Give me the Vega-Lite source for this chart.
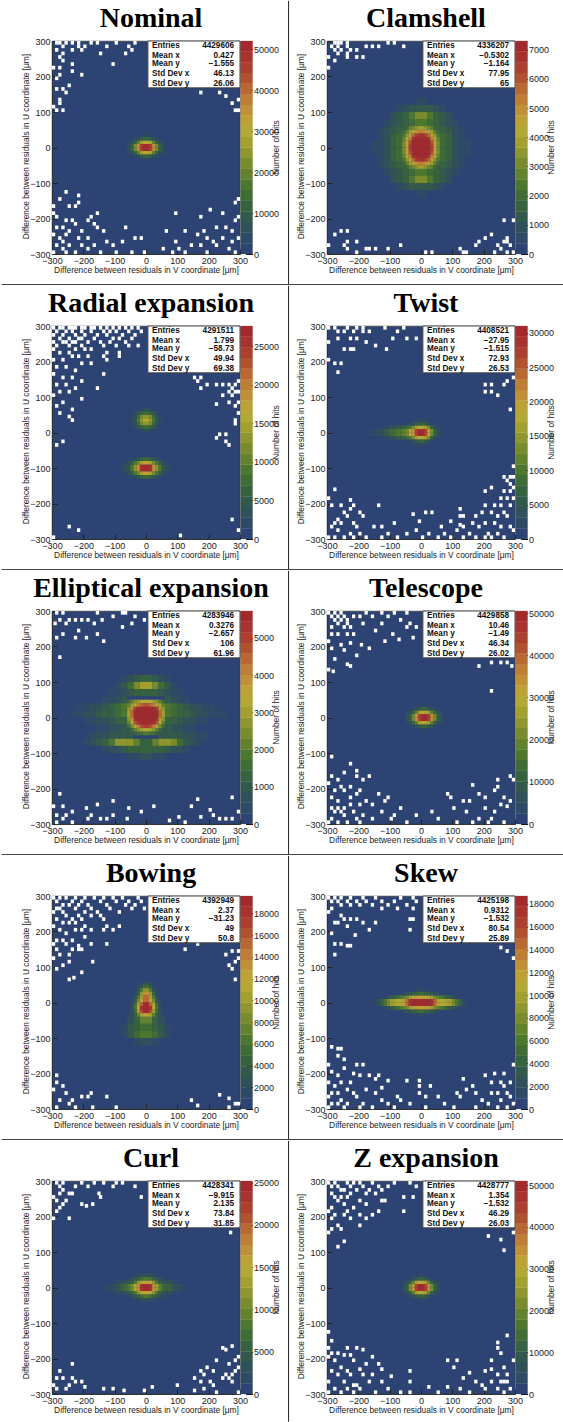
{"$schema":"https://vega.github.io/schema/vega-lite/v6.json","padding":0,"background":"white","bounds":"flush","columns":2,"spacing":{"column":87,"row":72},
"config":{"view":{"fill":"#2d4373","stroke":"#333","strokeWidth":0.7},"legend":{"disable":true},"range":{"ordinal":["#2d4373","#2f4a66","#30505a","#33594c","#376240","#3f6b34","#4d772f","#62822d","#788b2d","#8e962e","#a3a030","#b3a833","#bca236","#c09038","#be7e35","#b86832","#b1522f","#ab402e","#a6332e","#a32a2c"]},"axis":{"labelFont":"Liberation Sans","titleFont":"Liberation Sans","labelFontSize":9,"titleFontSize":8.4,"titleFontWeight":"normal","labelColor":"#222","titleColor":"#222","grid":false,"tickColor":"#222","domainColor":"#333","zindex":1,"labelOverlap":false,"labelFlush":false},"axisBottom":{"tickCount":7,"tickSize":-5,"labelPadding":7,"titleX":94,"titleY":15,"titleBaseline":"middle"},"axisLeft":{"tickCount":7,"tickSize":-5,"labelPadding":7,"titleX":-27,"titleY":105,"titleBaseline":"middle"},"axisRight":{"offset":12.6,"tickSize":-7,"labelPadding":8,"domain":false,"titleX":23,"titleY":106,"titleAngle":-90,"titleBaseline":"middle","tickColor":"#111"},"text":{"font":"Liberation Sans","fontSize":8.2,"fontWeight":"bold","color":"#111","baseline":"middle"}},
"datasets":{
"box":[{"x":6,"x2":300,"y":300,"y2":168}],
"lab":[{"t":"Entries","x":19,"y":286},{"t":"Mean x","x":19,"y":259},{"t":"Mean y","x":19,"y":235},{"t":"Std Dev x","x":19,"y":207},{"t":"Std Dev y","x":19,"y":179}],
"sl":[{"x":-461,"x2":455,"y":-386}],"sr":[{"x":-424,"x2":456,"y":-386}],"vt":[{"x":455,"y":413,"y2":-386}],"vb":[{"x":455,"y":413,"y2":-378}],
"hA":[{"x":5,"y":5,"l":19},{"x":-5,"y":5,"l":19},{"x":15,"y":5,"l":17},{"x":-15,"y":5,"l":17},{"x":25,"y":5,"l":13},{"x":-25,"y":5,"l":13},{"x":35,"y":5,"l":8},{"x":-35,"y":5,"l":8},{"x":45,"y":5,"l":4},{"x":-45,"y":5,"l":4},{"x":55,"y":5,"l":2},{"x":-55,"y":5,"l":2},{"x":5,"y":-5,"l":19},{"x":-5,"y":-5,"l":19},{"x":15,"y":-5,"l":17},{"x":-15,"y":-5,"l":17},{"x":25,"y":-5,"l":13},{"x":-25,"y":-5,"l":13},{"x":35,"y":-5,"l":8},{"x":-35,"y":-5,"l":8},{"x":45,"y":-5,"l":4},{"x":-45,"y":-5,"l":4},{"x":55,"y":-5,"l":2},{"x":-55,"y":-5,"l":2},{"x":5,"y":15,"l":11},{"x":-5,"y":15,"l":11},{"x":15,"y":15,"l":10},{"x":-15,"y":15,"l":10},{"x":25,"y":15,"l":7},{"x":-25,"y":15,"l":7},{"x":35,"y":15,"l":4},{"x":-35,"y":15,"l":4},{"x":45,"y":15,"l":2},{"x":-45,"y":15,"l":2},{"x":55,"y":15,"l":1},{"x":-55,"y":15,"l":1},{"x":5,"y":-15,"l":11},{"x":-5,"y":-15,"l":11},{"x":15,"y":-15,"l":10},{"x":-15,"y":-15,"l":10},{"x":25,"y":-15,"l":7},{"x":-25,"y":-15,"l":7},{"x":35,"y":-15,"l":4},{"x":-35,"y":-15,"l":4},{"x":45,"y":-15,"l":2},{"x":-45,"y":-15,"l":2},{"x":55,"y":-15,"l":1},{"x":-55,"y":-15,"l":1},{"x":5,"y":25,"l":4},{"x":-5,"y":25,"l":4},{"x":15,"y":25,"l":3},{"x":-15,"y":25,"l":3},{"x":25,"y":25,"l":2},{"x":-25,"y":25,"l":2},{"x":35,"y":25,"l":1},{"x":-35,"y":25,"l":1},{"x":5,"y":-25,"l":4},{"x":-5,"y":-25,"l":4},{"x":15,"y":-25,"l":3},{"x":-15,"y":-25,"l":3},{"x":25,"y":-25,"l":2},{"x":-25,"y":-25,"l":2},{"x":35,"y":-25,"l":1},{"x":-35,"y":-25,"l":1},{"x":5,"y":35,"l":1},{"x":-5,"y":35,"l":1},{"x":5,"y":-35,"l":1},{"x":-5,"y":-35,"l":1}],
"hT":[{"x":5,"y":5,"l":19},{"x":15,"y":5,"l":19},{"x":-5,"y":5,"l":17},{"x":25,"y":5,"l":17},{"x":-15,"y":5,"l":13},{"x":35,"y":5,"l":13},{"x":-25,"y":5,"l":8},{"x":45,"y":5,"l":8},{"x":-35,"y":5,"l":4},{"x":55,"y":5,"l":4},{"x":-45,"y":5,"l":2},{"x":65,"y":5,"l":2},{"x":5,"y":-5,"l":19},{"x":15,"y":-5,"l":19},{"x":-5,"y":-5,"l":17},{"x":25,"y":-5,"l":17},{"x":-15,"y":-5,"l":13},{"x":35,"y":-5,"l":13},{"x":-25,"y":-5,"l":8},{"x":45,"y":-5,"l":8},{"x":-35,"y":-5,"l":4},{"x":55,"y":-5,"l":4},{"x":-45,"y":-5,"l":2},{"x":65,"y":-5,"l":2},{"x":5,"y":15,"l":11},{"x":15,"y":15,"l":11},{"x":-5,"y":15,"l":10},{"x":25,"y":15,"l":10},{"x":-15,"y":15,"l":7},{"x":35,"y":15,"l":7},{"x":-25,"y":15,"l":4},{"x":45,"y":15,"l":4},{"x":-35,"y":15,"l":2},{"x":55,"y":15,"l":2},{"x":-45,"y":15,"l":1},{"x":65,"y":15,"l":1},{"x":5,"y":-15,"l":11},{"x":15,"y":-15,"l":11},{"x":-5,"y":-15,"l":10},{"x":25,"y":-15,"l":10},{"x":-15,"y":-15,"l":7},{"x":35,"y":-15,"l":7},{"x":-25,"y":-15,"l":4},{"x":45,"y":-15,"l":4},{"x":-35,"y":-15,"l":2},{"x":55,"y":-15,"l":2},{"x":-45,"y":-15,"l":1},{"x":65,"y":-15,"l":1},{"x":5,"y":25,"l":4},{"x":15,"y":25,"l":4},{"x":-5,"y":25,"l":3},{"x":25,"y":25,"l":3},{"x":-15,"y":25,"l":2},{"x":35,"y":25,"l":2},{"x":-25,"y":25,"l":1},{"x":45,"y":25,"l":1},{"x":5,"y":-25,"l":4},{"x":15,"y":-25,"l":4},{"x":-5,"y":-25,"l":3},{"x":25,"y":-25,"l":3},{"x":-15,"y":-25,"l":2},{"x":35,"y":-25,"l":2},{"x":-25,"y":-25,"l":1},{"x":45,"y":-25,"l":1},{"x":5,"y":35,"l":1},{"x":15,"y":35,"l":1},{"x":5,"y":-35,"l":1},{"x":15,"y":-35,"l":1}],
"hR":[{"x":5,"y":35,"l":11},{"x":-5,"y":35,"l":11},{"x":15,"y":35,"l":9},{"x":-15,"y":35,"l":9},{"x":25,"y":35,"l":6},{"x":-25,"y":35,"l":6},{"x":35,"y":35,"l":3},{"x":-35,"y":35,"l":3},{"x":45,"y":35,"l":1},{"x":-45,"y":35,"l":1},{"x":5,"y":25,"l":9},{"x":-5,"y":25,"l":9},{"x":15,"y":25,"l":8},{"x":-15,"y":25,"l":8},{"x":25,"y":25,"l":5},{"x":-25,"y":25,"l":5},{"x":35,"y":25,"l":2},{"x":-35,"y":25,"l":2},{"x":45,"y":25,"l":1},{"x":-45,"y":25,"l":1},{"x":5,"y":45,"l":9},{"x":-5,"y":45,"l":9},{"x":15,"y":45,"l":8},{"x":-15,"y":45,"l":8},{"x":25,"y":45,"l":5},{"x":-25,"y":45,"l":5},{"x":35,"y":45,"l":2},{"x":-35,"y":45,"l":2},{"x":45,"y":45,"l":1},{"x":-45,"y":45,"l":1},{"x":5,"y":15,"l":5},{"x":-5,"y":15,"l":5},{"x":15,"y":15,"l":4},{"x":-15,"y":15,"l":4},{"x":25,"y":15,"l":3},{"x":-25,"y":15,"l":3},{"x":35,"y":15,"l":1},{"x":-35,"y":15,"l":1},{"x":5,"y":55,"l":5},{"x":-5,"y":55,"l":5},{"x":15,"y":55,"l":4},{"x":-15,"y":55,"l":4},{"x":25,"y":55,"l":3},{"x":-25,"y":55,"l":3},{"x":35,"y":55,"l":1},{"x":-35,"y":55,"l":1},{"x":5,"y":5,"l":2},{"x":-5,"y":5,"l":2},{"x":15,"y":5,"l":1},{"x":-15,"y":5,"l":1},{"x":5,"y":65,"l":2},{"x":-5,"y":65,"l":2},{"x":15,"y":65,"l":1},{"x":-15,"y":65,"l":1},
{"x":5,"y":-95,"l":19},{"x":-5,"y":-95,"l":19},{"x":15,"y":-95,"l":18},{"x":-15,"y":-95,"l":18},{"x":25,"y":-95,"l":13},{"x":-25,"y":-95,"l":13},{"x":35,"y":-95,"l":9},{"x":-35,"y":-95,"l":9},{"x":45,"y":-95,"l":6},{"x":-45,"y":-95,"l":6},{"x":55,"y":-95,"l":3},{"x":-55,"y":-95,"l":3},{"x":65,"y":-95,"l":2},{"x":-65,"y":-95,"l":2},{"x":75,"y":-95,"l":1},{"x":-75,"y":-95,"l":1},{"x":5,"y":-105,"l":19},{"x":-5,"y":-105,"l":19},{"x":15,"y":-105,"l":18},{"x":-15,"y":-105,"l":18},{"x":25,"y":-105,"l":13},{"x":-25,"y":-105,"l":13},{"x":35,"y":-105,"l":9},{"x":-35,"y":-105,"l":9},{"x":45,"y":-105,"l":6},{"x":-45,"y":-105,"l":6},{"x":55,"y":-105,"l":3},{"x":-55,"y":-105,"l":3},{"x":65,"y":-105,"l":2},{"x":-65,"y":-105,"l":2},{"x":75,"y":-105,"l":1},{"x":-75,"y":-105,"l":1},{"x":5,"y":-85,"l":12},{"x":-5,"y":-85,"l":12},{"x":15,"y":-85,"l":10},{"x":-15,"y":-85,"l":10},{"x":25,"y":-85,"l":8},{"x":-25,"y":-85,"l":8},{"x":35,"y":-85,"l":6},{"x":-35,"y":-85,"l":6},{"x":45,"y":-85,"l":4},{"x":-45,"y":-85,"l":4},{"x":55,"y":-85,"l":2},{"x":-55,"y":-85,"l":2},{"x":65,"y":-85,"l":1},{"x":-65,"y":-85,"l":1},{"x":5,"y":-115,"l":12},{"x":-5,"y":-115,"l":12},{"x":15,"y":-115,"l":10},{"x":-15,"y":-115,"l":10},{"x":25,"y":-115,"l":8},{"x":-25,"y":-115,"l":8},{"x":35,"y":-115,"l":6},{"x":-35,"y":-115,"l":6},{"x":45,"y":-115,"l":4},{"x":-45,"y":-115,"l":4},{"x":55,"y":-115,"l":2},{"x":-55,"y":-115,"l":2},{"x":65,"y":-115,"l":1},{"x":-65,"y":-115,"l":1},{"x":5,"y":-75,"l":5},{"x":-5,"y":-75,"l":5},{"x":15,"y":-75,"l":4},{"x":-15,"y":-75,"l":4},{"x":25,"y":-75,"l":3},{"x":-25,"y":-75,"l":3},{"x":35,"y":-75,"l":2},{"x":-35,"y":-75,"l":2},{"x":45,"y":-75,"l":1},{"x":-45,"y":-75,"l":1},{"x":5,"y":-125,"l":5},{"x":-5,"y":-125,"l":5},{"x":15,"y":-125,"l":4},{"x":-15,"y":-125,"l":4},{"x":25,"y":-125,"l":3},{"x":-25,"y":-125,"l":3},{"x":35,"y":-125,"l":2},{"x":-35,"y":-125,"l":2},{"x":45,"y":-125,"l":1},{"x":-45,"y":-125,"l":1}],
"hW":[{"x":5,"y":5,"l":19},{"x":-5,"y":5,"l":19},{"x":15,"y":5,"l":17},{"x":-15,"y":5,"l":17},{"x":25,"y":5,"l":12},{"x":-25,"y":5,"l":13},{"x":35,"y":5,"l":8},{"x":-35,"y":5,"l":11},{"x":45,"y":5,"l":4},{"x":-45,"y":5,"l":8},{"x":55,"y":5,"l":2},{"x":-55,"y":5,"l":7},{"x":65,"y":5,"l":1},{"x":-65,"y":5,"l":6},{"x":-75,"y":5,"l":6},{"x":-85,"y":5,"l":5},{"x":-95,"y":5,"l":5},{"x":-105,"y":5,"l":4},{"x":-115,"y":5,"l":3},{"x":-125,"y":5,"l":2},{"x":-135,"y":5,"l":2},{"x":-145,"y":5,"l":1},{"x":-155,"y":5,"l":1},{"x":-165,"y":5,"l":1},{"x":5,"y":-5,"l":19},{"x":-5,"y":-5,"l":19},{"x":15,"y":-5,"l":17},{"x":-15,"y":-5,"l":17},{"x":25,"y":-5,"l":12},{"x":-25,"y":-5,"l":13},{"x":35,"y":-5,"l":8},{"x":-35,"y":-5,"l":11},{"x":45,"y":-5,"l":4},{"x":-45,"y":-5,"l":8},{"x":55,"y":-5,"l":2},{"x":-55,"y":-5,"l":7},{"x":65,"y":-5,"l":1},{"x":-65,"y":-5,"l":6},{"x":-75,"y":-5,"l":6},{"x":-85,"y":-5,"l":5},{"x":-95,"y":-5,"l":5},{"x":-105,"y":-5,"l":4},{"x":-115,"y":-5,"l":3},{"x":-125,"y":-5,"l":2},{"x":-135,"y":-5,"l":2},{"x":-145,"y":-5,"l":1},{"x":-155,"y":-5,"l":1},{"x":-165,"y":-5,"l":1},{"x":5,"y":15,"l":11},{"x":-5,"y":15,"l":11},{"x":15,"y":15,"l":10},{"x":-15,"y":15,"l":10},{"x":25,"y":15,"l":8},{"x":-25,"y":15,"l":8},{"x":35,"y":15,"l":4},{"x":-35,"y":15,"l":6},{"x":45,"y":15,"l":2},{"x":-45,"y":15,"l":5},{"x":55,"y":15,"l":1},{"x":-55,"y":15,"l":4},{"x":-65,"y":15,"l":3},{"x":-75,"y":15,"l":3},{"x":-85,"y":15,"l":2},{"x":-95,"y":15,"l":2},{"x":-105,"y":15,"l":1},{"x":-115,"y":15,"l":1},{"x":5,"y":-15,"l":11},{"x":-5,"y":-15,"l":11},{"x":15,"y":-15,"l":10},{"x":-15,"y":-15,"l":10},{"x":25,"y":-15,"l":8},{"x":-25,"y":-15,"l":8},{"x":35,"y":-15,"l":4},{"x":-35,"y":-15,"l":6},{"x":45,"y":-15,"l":2},{"x":-45,"y":-15,"l":5},{"x":55,"y":-15,"l":1},{"x":-55,"y":-15,"l":4},{"x":-65,"y":-15,"l":3},{"x":-75,"y":-15,"l":3},{"x":-85,"y":-15,"l":2},{"x":-95,"y":-15,"l":2},{"x":-105,"y":-15,"l":1},{"x":-115,"y":-15,"l":1},{"x":5,"y":25,"l":4},{"x":-5,"y":25,"l":4},{"x":15,"y":25,"l":3},{"x":-15,"y":25,"l":3},{"x":25,"y":25,"l":2},{"x":-25,"y":25,"l":2},{"x":35,"y":25,"l":1},{"x":-35,"y":25,"l":1},{"x":-45,"y":25,"l":1},{"x":5,"y":-25,"l":4},{"x":-5,"y":-25,"l":4},{"x":15,"y":-25,"l":3},{"x":-15,"y":-25,"l":3},{"x":25,"y":-25,"l":2},{"x":-25,"y":-25,"l":2},{"x":35,"y":-25,"l":1},{"x":-35,"y":-25,"l":1},{"x":-45,"y":-25,"l":1},{"x":5,"y":35,"l":1},{"x":-5,"y":35,"l":1},{"x":15,"y":35,"l":1},{"x":-15,"y":35,"l":1},{"x":5,"y":-35,"l":1},{"x":-5,"y":-35,"l":1},{"x":15,"y":-35,"l":1},{"x":-15,"y":-35,"l":1}],
"hU":[{"x":5,"y":5,"l":19},{"x":-5,"y":5,"l":19},{"x":15,"y":5,"l":18},{"x":-15,"y":5,"l":18},{"x":25,"y":5,"l":13},{"x":-25,"y":5,"l":13},{"x":35,"y":5,"l":10},{"x":-35,"y":5,"l":11},{"x":45,"y":5,"l":7},{"x":-45,"y":5,"l":8},{"x":55,"y":5,"l":5},{"x":-55,"y":5,"l":6},{"x":65,"y":5,"l":4},{"x":-65,"y":5,"l":5},{"x":75,"y":5,"l":4},{"x":-75,"y":5,"l":4},{"x":85,"y":5,"l":3},{"x":-85,"y":5,"l":3},{"x":95,"y":5,"l":2},{"x":-95,"y":5,"l":2},{"x":105,"y":5,"l":2},{"x":-105,"y":5,"l":2},{"x":115,"y":5,"l":1},{"x":-115,"y":5,"l":1},{"x":125,"y":5,"l":1},{"x":-125,"y":5,"l":1},{"x":5,"y":-5,"l":19},{"x":-5,"y":-5,"l":19},{"x":15,"y":-5,"l":18},{"x":-15,"y":-5,"l":18},{"x":25,"y":-5,"l":13},{"x":-25,"y":-5,"l":13},{"x":35,"y":-5,"l":10},{"x":-35,"y":-5,"l":11},{"x":45,"y":-5,"l":7},{"x":-45,"y":-5,"l":8},{"x":55,"y":-5,"l":5},{"x":-55,"y":-5,"l":6},{"x":65,"y":-5,"l":4},{"x":-65,"y":-5,"l":5},{"x":75,"y":-5,"l":4},{"x":-75,"y":-5,"l":4},{"x":85,"y":-5,"l":3},{"x":-85,"y":-5,"l":3},{"x":95,"y":-5,"l":2},{"x":-95,"y":-5,"l":2},{"x":105,"y":-5,"l":2},{"x":-105,"y":-5,"l":2},{"x":115,"y":-5,"l":1},{"x":-115,"y":-5,"l":1},{"x":125,"y":-5,"l":1},{"x":-125,"y":-5,"l":1},{"x":5,"y":15,"l":12},{"x":-5,"y":15,"l":12},{"x":15,"y":15,"l":11},{"x":-15,"y":15,"l":11},{"x":25,"y":15,"l":9},{"x":-25,"y":15,"l":9},{"x":35,"y":15,"l":6},{"x":-35,"y":15,"l":6},{"x":45,"y":15,"l":4},{"x":-45,"y":15,"l":4},{"x":55,"y":15,"l":3},{"x":-55,"y":15,"l":3},{"x":65,"y":15,"l":2},{"x":-65,"y":15,"l":2},{"x":75,"y":15,"l":2},{"x":-75,"y":15,"l":2},{"x":85,"y":15,"l":1},{"x":-85,"y":15,"l":1},{"x":95,"y":15,"l":1},{"x":-95,"y":15,"l":1},{"x":5,"y":-15,"l":12},{"x":-5,"y":-15,"l":12},{"x":15,"y":-15,"l":11},{"x":-15,"y":-15,"l":11},{"x":25,"y":-15,"l":9},{"x":-25,"y":-15,"l":9},{"x":35,"y":-15,"l":6},{"x":-35,"y":-15,"l":6},{"x":45,"y":-15,"l":4},{"x":-45,"y":-15,"l":4},{"x":55,"y":-15,"l":3},{"x":-55,"y":-15,"l":3},{"x":65,"y":-15,"l":2},{"x":-65,"y":-15,"l":2},{"x":75,"y":-15,"l":2},{"x":-75,"y":-15,"l":2},{"x":85,"y":-15,"l":1},{"x":-85,"y":-15,"l":1},{"x":95,"y":-15,"l":1},{"x":-95,"y":-15,"l":1},{"x":5,"y":25,"l":6},{"x":-5,"y":25,"l":6},{"x":15,"y":25,"l":5},{"x":-15,"y":25,"l":5},{"x":25,"y":25,"l":4},{"x":-25,"y":25,"l":4},{"x":35,"y":25,"l":3},{"x":-35,"y":25,"l":3},{"x":45,"y":25,"l":2},{"x":-45,"y":25,"l":2},{"x":55,"y":25,"l":1},{"x":-55,"y":25,"l":1},{"x":5,"y":-25,"l":6},{"x":-5,"y":-25,"l":6},{"x":15,"y":-25,"l":5},{"x":-15,"y":-25,"l":5},{"x":25,"y":-25,"l":4},{"x":-25,"y":-25,"l":4},{"x":35,"y":-25,"l":3},{"x":-35,"y":-25,"l":3},{"x":45,"y":-25,"l":2},{"x":-45,"y":-25,"l":2},{"x":55,"y":-25,"l":1},{"x":-55,"y":-25,"l":1},{"x":5,"y":35,"l":2},{"x":-5,"y":35,"l":2},{"x":15,"y":35,"l":2},{"x":-15,"y":35,"l":2},{"x":25,"y":35,"l":1},{"x":-25,"y":35,"l":1},{"x":5,"y":-35,"l":2},{"x":-5,"y":-35,"l":2},{"x":15,"y":-35,"l":2},{"x":-15,"y":-35,"l":2},{"x":25,"y":-35,"l":1},{"x":-25,"y":-35,"l":1}],
"hS":[{"x":5,"y":5,"l":19},{"x":-5,"y":5,"l":19},{"x":15,"y":5,"l":19},{"x":-15,"y":5,"l":19},{"x":25,"y":5,"l":19},{"x":-25,"y":5,"l":19},{"x":35,"y":5,"l":18},{"x":-35,"y":5,"l":18},{"x":45,"y":5,"l":15},{"x":-45,"y":5,"l":15},{"x":55,"y":5,"l":12},{"x":-55,"y":5,"l":12},{"x":65,"y":5,"l":11},{"x":-65,"y":5,"l":11},{"x":75,"y":5,"l":11},{"x":-75,"y":5,"l":11},{"x":85,"y":5,"l":10},{"x":-85,"y":5,"l":10},{"x":95,"y":5,"l":10},{"x":-95,"y":5,"l":10},{"x":105,"y":5,"l":8},{"x":-105,"y":5,"l":8},{"x":115,"y":5,"l":6},{"x":-115,"y":5,"l":6},{"x":125,"y":5,"l":4},{"x":-125,"y":5,"l":4},{"x":135,"y":5,"l":2},{"x":-135,"y":5,"l":2},{"x":145,"y":5,"l":1},{"x":-145,"y":5,"l":1},{"x":5,"y":-5,"l":19},{"x":-5,"y":-5,"l":19},{"x":15,"y":-5,"l":19},{"x":-15,"y":-5,"l":19},{"x":25,"y":-5,"l":19},{"x":-25,"y":-5,"l":19},{"x":35,"y":-5,"l":18},{"x":-35,"y":-5,"l":18},{"x":45,"y":-5,"l":15},{"x":-45,"y":-5,"l":15},{"x":55,"y":-5,"l":12},{"x":-55,"y":-5,"l":12},{"x":65,"y":-5,"l":11},{"x":-65,"y":-5,"l":11},{"x":75,"y":-5,"l":11},{"x":-75,"y":-5,"l":11},{"x":85,"y":-5,"l":10},{"x":-85,"y":-5,"l":10},{"x":95,"y":-5,"l":10},{"x":-95,"y":-5,"l":10},{"x":105,"y":-5,"l":8},{"x":-105,"y":-5,"l":8},{"x":115,"y":-5,"l":6},{"x":-115,"y":-5,"l":6},{"x":125,"y":-5,"l":4},{"x":-125,"y":-5,"l":4},{"x":135,"y":-5,"l":2},{"x":-135,"y":-5,"l":2},{"x":145,"y":-5,"l":1},{"x":-145,"y":-5,"l":1},{"x":5,"y":15,"l":12},{"x":-5,"y":15,"l":12},{"x":15,"y":15,"l":12},{"x":-15,"y":15,"l":12},{"x":25,"y":15,"l":11},{"x":-25,"y":15,"l":11},{"x":35,"y":15,"l":10},{"x":-35,"y":15,"l":10},{"x":45,"y":15,"l":8},{"x":-45,"y":15,"l":8},{"x":55,"y":15,"l":7},{"x":-55,"y":15,"l":7},{"x":65,"y":15,"l":6},{"x":-65,"y":15,"l":6},{"x":75,"y":15,"l":5},{"x":-75,"y":15,"l":5},{"x":85,"y":15,"l":4},{"x":-85,"y":15,"l":4},{"x":95,"y":15,"l":3},{"x":-95,"y":15,"l":3},{"x":105,"y":15,"l":2},{"x":-105,"y":15,"l":2},{"x":115,"y":15,"l":1},{"x":-115,"y":15,"l":1},{"x":5,"y":-15,"l":12},{"x":-5,"y":-15,"l":12},{"x":15,"y":-15,"l":12},{"x":-15,"y":-15,"l":12},{"x":25,"y":-15,"l":11},{"x":-25,"y":-15,"l":11},{"x":35,"y":-15,"l":10},{"x":-35,"y":-15,"l":10},{"x":45,"y":-15,"l":8},{"x":-45,"y":-15,"l":8},{"x":55,"y":-15,"l":7},{"x":-55,"y":-15,"l":7},{"x":65,"y":-15,"l":6},{"x":-65,"y":-15,"l":6},{"x":75,"y":-15,"l":5},{"x":-75,"y":-15,"l":5},{"x":85,"y":-15,"l":4},{"x":-85,"y":-15,"l":4},{"x":95,"y":-15,"l":3},{"x":-95,"y":-15,"l":3},{"x":105,"y":-15,"l":2},{"x":-105,"y":-15,"l":2},{"x":115,"y":-15,"l":1},{"x":-115,"y":-15,"l":1},{"x":5,"y":25,"l":5},{"x":-5,"y":25,"l":5},{"x":15,"y":25,"l":4},{"x":-15,"y":25,"l":4},{"x":25,"y":25,"l":4},{"x":-25,"y":25,"l":4},{"x":35,"y":25,"l":3},{"x":-35,"y":25,"l":3},{"x":45,"y":25,"l":2},{"x":-45,"y":25,"l":2},{"x":55,"y":25,"l":1},{"x":-55,"y":25,"l":1},{"x":5,"y":-25,"l":5},{"x":-5,"y":-25,"l":5},{"x":15,"y":-25,"l":4},{"x":-15,"y":-25,"l":4},{"x":25,"y":-25,"l":4},{"x":-25,"y":-25,"l":4},{"x":35,"y":-25,"l":3},{"x":-35,"y":-25,"l":3},{"x":45,"y":-25,"l":2},{"x":-45,"y":-25,"l":2},{"x":55,"y":-25,"l":1},{"x":-55,"y":-25,"l":1},{"x":5,"y":35,"l":1},{"x":-5,"y":35,"l":1},{"x":15,"y":35,"l":1},{"x":-15,"y":35,"l":1},{"x":5,"y":-35,"l":1},{"x":-5,"y":-35,"l":1},{"x":15,"y":-35,"l":1},{"x":-15,"y":-35,"l":1}],
"hB":[{"x":5,"y":55,"l":2},{"x":-5,"y":55,"l":2},{"x":15,"y":55,"l":1},{"x":-15,"y":55,"l":1},{"x":5,"y":45,"l":5},{"x":-5,"y":45,"l":5},{"x":15,"y":45,"l":3},{"x":-15,"y":45,"l":3},{"x":25,"y":45,"l":1},{"x":-25,"y":45,"l":1},{"x":5,"y":35,"l":9},{"x":-5,"y":35,"l":9},{"x":15,"y":35,"l":6},{"x":-15,"y":35,"l":6},{"x":25,"y":35,"l":2},{"x":-25,"y":35,"l":2},{"x":35,"y":35,"l":1},{"x":-35,"y":35,"l":1},{"x":5,"y":25,"l":13},{"x":-5,"y":25,"l":13},{"x":15,"y":25,"l":9},{"x":-15,"y":25,"l":9},{"x":25,"y":25,"l":4},{"x":-25,"y":25,"l":4},{"x":35,"y":25,"l":1},{"x":-35,"y":25,"l":1},{"x":5,"y":15,"l":15},{"x":-5,"y":15,"l":15},{"x":15,"y":15,"l":10},{"x":-15,"y":15,"l":10},{"x":25,"y":15,"l":6},{"x":-25,"y":15,"l":6},{"x":35,"y":15,"l":2},{"x":-35,"y":15,"l":2},{"x":5,"y":5,"l":15},{"x":-5,"y":5,"l":15},{"x":15,"y":5,"l":12},{"x":-15,"y":5,"l":12},{"x":25,"y":5,"l":8},{"x":-25,"y":5,"l":8},{"x":35,"y":5,"l":3},{"x":-35,"y":5,"l":3},{"x":45,"y":5,"l":1},{"x":-45,"y":5,"l":1},{"x":5,"y":-5,"l":19},{"x":-5,"y":-5,"l":19},{"x":15,"y":-5,"l":15},{"x":-15,"y":-5,"l":15},{"x":25,"y":-5,"l":10},{"x":-25,"y":-5,"l":10},{"x":35,"y":-5,"l":5},{"x":-35,"y":-5,"l":5},{"x":45,"y":-5,"l":2},{"x":-45,"y":-5,"l":2},{"x":5,"y":-15,"l":19},{"x":-5,"y":-15,"l":19},{"x":15,"y":-15,"l":18},{"x":-15,"y":-15,"l":18},{"x":25,"y":-15,"l":11},{"x":-25,"y":-15,"l":11},{"x":35,"y":-15,"l":6},{"x":-35,"y":-15,"l":6},{"x":45,"y":-15,"l":2},{"x":-45,"y":-15,"l":2},{"x":5,"y":-25,"l":19},{"x":-5,"y":-25,"l":19},{"x":15,"y":-25,"l":16},{"x":-15,"y":-25,"l":16},{"x":25,"y":-25,"l":10},{"x":-25,"y":-25,"l":10},{"x":35,"y":-25,"l":5},{"x":-35,"y":-25,"l":5},{"x":45,"y":-25,"l":2},{"x":-45,"y":-25,"l":2},{"x":5,"y":-35,"l":12},{"x":-5,"y":-35,"l":12},{"x":15,"y":-35,"l":10},{"x":-15,"y":-35,"l":10},{"x":25,"y":-35,"l":7},{"x":-25,"y":-35,"l":7},{"x":35,"y":-35,"l":4},{"x":-35,"y":-35,"l":4},{"x":45,"y":-35,"l":2},{"x":-45,"y":-35,"l":2},{"x":55,"y":-35,"l":1},{"x":-55,"y":-35,"l":1}],
"cB":[{"x":10,"y":-50,"l":7},{"x":-10,"y":-50,"l":7},{"x":30,"y":-50,"l":4},{"x":-30,"y":-50,"l":4},{"x":50,"y":-50,"l":2},{"x":-50,"y":-50,"l":2},{"x":10,"y":-70,"l":5},{"x":-10,"y":-70,"l":5},{"x":30,"y":-70,"l":4},{"x":-30,"y":-70,"l":4},{"x":50,"y":-70,"l":3},{"x":-50,"y":-70,"l":3},{"x":70,"y":-70,"l":1},{"x":-70,"y":-70,"l":1},{"x":10,"y":-90,"l":6},{"x":-10,"y":-90,"l":6},{"x":30,"y":-90,"l":5},{"x":-30,"y":-90,"l":5},{"x":50,"y":-90,"l":3},{"x":-50,"y":-90,"l":3},{"x":70,"y":-90,"l":1},{"x":-70,"y":-90,"l":1},{"x":10,"y":-110,"l":2},{"x":-10,"y":-110,"l":2},{"x":30,"y":-110,"l":1},{"x":-30,"y":-110,"l":1}],
"hC":[{"x":5,"y":5,"l":19},{"x":-5,"y":5,"l":19},{"x":15,"y":5,"l":19},{"x":-15,"y":5,"l":19},{"x":25,"y":5,"l":19},{"x":-25,"y":5,"l":19},{"x":35,"y":5,"l":17},{"x":-35,"y":5,"l":17},{"x":45,"y":5,"l":12},{"x":-45,"y":5,"l":12},{"x":55,"y":5,"l":8},{"x":-55,"y":5,"l":8},{"x":5,"y":-5,"l":19},{"x":-5,"y":-5,"l":19},{"x":15,"y":-5,"l":19},{"x":-15,"y":-5,"l":19},{"x":25,"y":-5,"l":19},{"x":-25,"y":-5,"l":19},{"x":35,"y":-5,"l":17},{"x":-35,"y":-5,"l":17},{"x":45,"y":-5,"l":12},{"x":-45,"y":-5,"l":12},{"x":55,"y":-5,"l":8},{"x":-55,"y":-5,"l":8},{"x":5,"y":15,"l":19},{"x":-5,"y":15,"l":19},{"x":15,"y":15,"l":19},{"x":-15,"y":15,"l":19},{"x":25,"y":15,"l":19},{"x":-25,"y":15,"l":19},{"x":35,"y":15,"l":16},{"x":-35,"y":15,"l":16},{"x":45,"y":15,"l":12},{"x":-45,"y":15,"l":12},{"x":55,"y":15,"l":8},{"x":-55,"y":15,"l":8},{"x":5,"y":-15,"l":19},{"x":-5,"y":-15,"l":19},{"x":15,"y":-15,"l":19},{"x":-15,"y":-15,"l":19},{"x":25,"y":-15,"l":19},{"x":-25,"y":-15,"l":19},{"x":35,"y":-15,"l":16},{"x":-35,"y":-15,"l":16},{"x":45,"y":-15,"l":12},{"x":-45,"y":-15,"l":12},{"x":55,"y":-15,"l":8},{"x":-55,"y":-15,"l":8},{"x":5,"y":25,"l":19},{"x":-5,"y":25,"l":19},{"x":15,"y":25,"l":19},{"x":-15,"y":25,"l":19},{"x":25,"y":25,"l":18},{"x":-25,"y":25,"l":18},{"x":35,"y":25,"l":14},{"x":-35,"y":25,"l":14},{"x":45,"y":25,"l":11},{"x":-45,"y":25,"l":11},{"x":55,"y":25,"l":7},{"x":-55,"y":25,"l":7},{"x":5,"y":-25,"l":19},{"x":-5,"y":-25,"l":19},{"x":15,"y":-25,"l":19},{"x":-15,"y":-25,"l":19},{"x":25,"y":-25,"l":18},{"x":-25,"y":-25,"l":18},{"x":35,"y":-25,"l":14},{"x":-35,"y":-25,"l":14},{"x":45,"y":-25,"l":11},{"x":-45,"y":-25,"l":11},{"x":55,"y":-25,"l":7},{"x":-55,"y":-25,"l":7},{"x":5,"y":35,"l":18},{"x":-5,"y":35,"l":18},{"x":15,"y":35,"l":17},{"x":-15,"y":35,"l":17},{"x":25,"y":35,"l":15},{"x":-25,"y":35,"l":15},{"x":35,"y":35,"l":12},{"x":-35,"y":35,"l":12},{"x":45,"y":35,"l":9},{"x":-45,"y":35,"l":9},{"x":55,"y":35,"l":6},{"x":-55,"y":35,"l":6},{"x":5,"y":-35,"l":18},{"x":-5,"y":-35,"l":18},{"x":15,"y":-35,"l":17},{"x":-15,"y":-35,"l":17},{"x":25,"y":-35,"l":15},{"x":-25,"y":-35,"l":15},{"x":35,"y":-35,"l":12},{"x":-35,"y":-35,"l":12},{"x":45,"y":-35,"l":9},{"x":-45,"y":-35,"l":9},{"x":55,"y":-35,"l":6},{"x":-55,"y":-35,"l":6},{"x":5,"y":45,"l":14},{"x":-5,"y":45,"l":14},{"x":15,"y":45,"l":13},{"x":-15,"y":45,"l":13},{"x":25,"y":45,"l":12},{"x":-25,"y":45,"l":12},{"x":35,"y":45,"l":10},{"x":-35,"y":45,"l":10},{"x":45,"y":45,"l":7},{"x":-45,"y":45,"l":7},{"x":55,"y":45,"l":5},{"x":-55,"y":45,"l":5},{"x":5,"y":-45,"l":14},{"x":-5,"y":-45,"l":14},{"x":15,"y":-45,"l":13},{"x":-15,"y":-45,"l":13},{"x":25,"y":-45,"l":12},{"x":-25,"y":-45,"l":12},{"x":35,"y":-45,"l":10},{"x":-35,"y":-45,"l":10},{"x":45,"y":-45,"l":7},{"x":-45,"y":-45,"l":7},{"x":55,"y":-45,"l":5},{"x":-55,"y":-45,"l":5},{"x":5,"y":55,"l":10},{"x":-5,"y":55,"l":10},{"x":15,"y":55,"l":9},{"x":-15,"y":55,"l":9},{"x":25,"y":55,"l":8},{"x":-25,"y":55,"l":8},{"x":35,"y":55,"l":7},{"x":-35,"y":55,"l":7},{"x":45,"y":55,"l":5},{"x":-45,"y":55,"l":5},{"x":55,"y":55,"l":4},{"x":-55,"y":55,"l":4},{"x":5,"y":-55,"l":10},{"x":-5,"y":-55,"l":10},{"x":15,"y":-55,"l":9},{"x":-15,"y":-55,"l":9},{"x":25,"y":-55,"l":8},{"x":-25,"y":-55,"l":8},{"x":35,"y":-55,"l":7},{"x":-35,"y":-55,"l":7},{"x":45,"y":-55,"l":5},{"x":-45,"y":-55,"l":5},{"x":55,"y":-55,"l":4},{"x":-55,"y":-55,"l":4}],
"hE":[{"x":5,"y":45,"l":11},{"x":-5,"y":45,"l":11},{"x":15,"y":45,"l":11},{"x":-15,"y":45,"l":11},{"x":25,"y":45,"l":10},{"x":-25,"y":45,"l":10},{"x":35,"y":45,"l":9},{"x":-35,"y":45,"l":9},{"x":45,"y":45,"l":7},{"x":-45,"y":45,"l":7},{"x":55,"y":45,"l":5},{"x":-55,"y":45,"l":5},{"x":5,"y":35,"l":16},{"x":-5,"y":35,"l":16},{"x":15,"y":35,"l":15},{"x":-15,"y":35,"l":15},{"x":25,"y":35,"l":14},{"x":-25,"y":35,"l":14},{"x":35,"y":35,"l":12},{"x":-35,"y":35,"l":12},{"x":45,"y":35,"l":10},{"x":-45,"y":35,"l":10},{"x":55,"y":35,"l":7},{"x":-55,"y":35,"l":7},{"x":5,"y":25,"l":19},{"x":-5,"y":25,"l":19},{"x":15,"y":25,"l":19},{"x":-15,"y":25,"l":19},{"x":25,"y":25,"l":19},{"x":-25,"y":25,"l":19},{"x":35,"y":25,"l":17},{"x":-35,"y":25,"l":17},{"x":45,"y":25,"l":13},{"x":-45,"y":25,"l":13},{"x":55,"y":25,"l":9},{"x":-55,"y":25,"l":9},{"x":5,"y":15,"l":19},{"x":-5,"y":15,"l":19},{"x":15,"y":15,"l":19},{"x":-15,"y":15,"l":19},{"x":25,"y":15,"l":19},{"x":-25,"y":15,"l":19},{"x":35,"y":15,"l":19},{"x":-35,"y":15,"l":19},{"x":45,"y":15,"l":15},{"x":-45,"y":15,"l":15},{"x":55,"y":15,"l":10},{"x":-55,"y":15,"l":10},{"x":5,"y":5,"l":19},{"x":-5,"y":5,"l":19},{"x":15,"y":5,"l":19},{"x":-15,"y":5,"l":19},{"x":25,"y":5,"l":19},{"x":-25,"y":5,"l":19},{"x":35,"y":5,"l":19},{"x":-35,"y":5,"l":19},{"x":45,"y":5,"l":15},{"x":-45,"y":5,"l":15},{"x":55,"y":5,"l":10},{"x":-55,"y":5,"l":10},{"x":5,"y":-5,"l":19},{"x":-5,"y":-5,"l":19},{"x":15,"y":-5,"l":19},{"x":-15,"y":-5,"l":19},{"x":25,"y":-5,"l":19},{"x":-25,"y":-5,"l":19},{"x":35,"y":-5,"l":18},{"x":-35,"y":-5,"l":18},{"x":45,"y":-5,"l":13},{"x":-45,"y":-5,"l":13},{"x":55,"y":-5,"l":9},{"x":-55,"y":-5,"l":9},{"x":5,"y":-15,"l":19},{"x":-5,"y":-15,"l":19},{"x":15,"y":-15,"l":19},{"x":-15,"y":-15,"l":19},{"x":25,"y":-15,"l":18},{"x":-25,"y":-15,"l":18},{"x":35,"y":-15,"l":16},{"x":-35,"y":-15,"l":16},{"x":45,"y":-15,"l":11},{"x":-45,"y":-15,"l":11},{"x":55,"y":-15,"l":7},{"x":-55,"y":-15,"l":7},{"x":5,"y":-25,"l":17},{"x":-5,"y":-25,"l":17},{"x":15,"y":-25,"l":16},{"x":-15,"y":-25,"l":16},{"x":25,"y":-25,"l":14},{"x":-25,"y":-25,"l":14},{"x":35,"y":-25,"l":11},{"x":-35,"y":-25,"l":11},{"x":45,"y":-25,"l":8},{"x":-45,"y":-25,"l":8},{"x":55,"y":-25,"l":5},{"x":-55,"y":-25,"l":5},{"x":5,"y":-35,"l":11},{"x":-5,"y":-35,"l":11},{"x":15,"y":-35,"l":10},{"x":-15,"y":-35,"l":10},{"x":25,"y":-35,"l":9},{"x":-25,"y":-35,"l":9},{"x":35,"y":-35,"l":7},{"x":-35,"y":-35,"l":7},{"x":45,"y":-35,"l":5},{"x":-45,"y":-35,"l":5},{"x":55,"y":-35,"l":3},{"x":-55,"y":-35,"l":3},{"x":5,"y":-45,"l":6},{"x":-5,"y":-45,"l":6},{"x":15,"y":-45,"l":5},{"x":-15,"y":-45,"l":5},{"x":25,"y":-45,"l":5},{"x":-25,"y":-45,"l":5},{"x":35,"y":-45,"l":4},{"x":-35,"y":-45,"l":4}],
"cC":[{"x":70,"y":10,"l":5},{"x":-70,"y":10,"l":5},{"x":90,"y":10,"l":4},{"x":-90,"y":10,"l":4},{"x":110,"y":10,"l":2},{"x":-110,"y":10,"l":2},{"x":130,"y":10,"l":1},{"x":-130,"y":10,"l":1},{"x":150,"y":10,"l":1},{"x":-150,"y":10,"l":1},{"x":70,"y":-10,"l":5},{"x":-70,"y":-10,"l":5},{"x":90,"y":-10,"l":4},{"x":-90,"y":-10,"l":4},{"x":110,"y":-10,"l":2},{"x":-110,"y":-10,"l":2},{"x":130,"y":-10,"l":1},{"x":-130,"y":-10,"l":1},{"x":150,"y":-10,"l":1},{"x":-150,"y":-10,"l":1},{"x":70,"y":30,"l":5},{"x":-70,"y":30,"l":5},{"x":90,"y":30,"l":4},{"x":-90,"y":30,"l":4},{"x":110,"y":30,"l":2},{"x":-110,"y":30,"l":2},{"x":130,"y":30,"l":1},{"x":-130,"y":30,"l":1},{"x":70,"y":-30,"l":5},{"x":-70,"y":-30,"l":5},{"x":90,"y":-30,"l":4},{"x":-90,"y":-30,"l":4},{"x":110,"y":-30,"l":2},{"x":-110,"y":-30,"l":2},{"x":130,"y":-30,"l":1},{"x":-130,"y":-30,"l":1},{"x":70,"y":50,"l":4},{"x":-70,"y":50,"l":4},{"x":90,"y":50,"l":3},{"x":-90,"y":50,"l":3},{"x":110,"y":50,"l":2},{"x":-110,"y":50,"l":2},{"x":130,"y":50,"l":1},{"x":-130,"y":50,"l":1},{"x":70,"y":-50,"l":4},{"x":-70,"y":-50,"l":4},{"x":90,"y":-50,"l":3},{"x":-90,"y":-50,"l":3},{"x":110,"y":-50,"l":2},{"x":-110,"y":-50,"l":2},{"x":130,"y":-50,"l":1},{"x":-130,"y":-50,"l":1},{"x":10,"y":70,"l":6},{"x":-10,"y":70,"l":6},{"x":30,"y":70,"l":5},{"x":-30,"y":70,"l":5},{"x":50,"y":70,"l":4},{"x":-50,"y":70,"l":4},{"x":70,"y":70,"l":3},{"x":-70,"y":70,"l":3},{"x":90,"y":70,"l":2},{"x":-90,"y":70,"l":2},{"x":110,"y":70,"l":1},{"x":-110,"y":70,"l":1},{"x":10,"y":-70,"l":6},{"x":-10,"y":-70,"l":6},{"x":30,"y":-70,"l":5},{"x":-30,"y":-70,"l":5},{"x":50,"y":-70,"l":4},{"x":-50,"y":-70,"l":4},{"x":70,"y":-70,"l":3},{"x":-70,"y":-70,"l":3},{"x":90,"y":-70,"l":2},{"x":-90,"y":-70,"l":2},{"x":110,"y":-70,"l":1},{"x":-110,"y":-70,"l":1},{"x":10,"y":90,"l":8},{"x":-10,"y":90,"l":8},{"x":30,"y":90,"l":6},{"x":-30,"y":90,"l":6},{"x":50,"y":90,"l":4},{"x":-50,"y":90,"l":4},{"x":70,"y":90,"l":3},{"x":-70,"y":90,"l":3},{"x":90,"y":90,"l":2},{"x":-90,"y":90,"l":2},{"x":10,"y":-90,"l":8},{"x":-10,"y":-90,"l":8},{"x":30,"y":-90,"l":6},{"x":-30,"y":-90,"l":6},{"x":50,"y":-90,"l":4},{"x":-50,"y":-90,"l":4},{"x":70,"y":-90,"l":3},{"x":-70,"y":-90,"l":3},{"x":90,"y":-90,"l":2},{"x":-90,"y":-90,"l":2},{"x":10,"y":110,"l":3},{"x":-10,"y":110,"l":3},{"x":30,"y":110,"l":3},{"x":-30,"y":110,"l":3},{"x":50,"y":110,"l":2},{"x":-50,"y":110,"l":2},{"x":70,"y":110,"l":1},{"x":-70,"y":110,"l":1},{"x":10,"y":-110,"l":3},{"x":-10,"y":-110,"l":3},{"x":30,"y":-110,"l":3},{"x":-30,"y":-110,"l":3},{"x":50,"y":-110,"l":2},{"x":-50,"y":-110,"l":2},{"x":70,"y":-110,"l":1},{"x":-70,"y":-110,"l":1},{"x":10,"y":130,"l":1},{"x":-10,"y":130,"l":1},{"x":10,"y":-130,"l":1},{"x":-10,"y":-130,"l":1}],
"cE":[{"x":10,"y":110,"l":4},{"x":-10,"y":110,"l":4},{"x":30,"y":110,"l":3},{"x":-30,"y":110,"l":3},{"x":50,"y":110,"l":2},{"x":-50,"y":110,"l":2},{"x":70,"y":110,"l":1},{"x":-70,"y":110,"l":1},{"x":10,"y":90,"l":10},{"x":-10,"y":90,"l":10},{"x":30,"y":90,"l":8},{"x":-30,"y":90,"l":8},{"x":50,"y":90,"l":5},{"x":-50,"y":90,"l":5},{"x":70,"y":90,"l":3},{"x":-70,"y":90,"l":3},{"x":90,"y":90,"l":1},{"x":-90,"y":90,"l":1},{"x":10,"y":70,"l":4},{"x":-10,"y":70,"l":4},{"x":30,"y":70,"l":4},{"x":-30,"y":70,"l":4},{"x":50,"y":70,"l":3},{"x":-50,"y":70,"l":3},{"x":70,"y":70,"l":2},{"x":-70,"y":70,"l":2},{"x":90,"y":70,"l":1},{"x":-90,"y":70,"l":1},{"x":110,"y":70,"l":1},{"x":-110,"y":70,"l":1},{"x":70,"y":50,"l":3},{"x":-70,"y":50,"l":3},{"x":90,"y":50,"l":2},{"x":-90,"y":50,"l":2},{"x":110,"y":50,"l":1},{"x":-110,"y":50,"l":1},{"x":130,"y":50,"l":1},{"x":-130,"y":50,"l":1},{"x":70,"y":30,"l":6},{"x":-70,"y":30,"l":6},{"x":90,"y":30,"l":5},{"x":-90,"y":30,"l":5},{"x":110,"y":30,"l":4},{"x":-110,"y":30,"l":4},{"x":130,"y":30,"l":3},{"x":-130,"y":30,"l":3},{"x":150,"y":30,"l":2},{"x":-150,"y":30,"l":2},{"x":170,"y":30,"l":2},{"x":-170,"y":30,"l":2},{"x":190,"y":30,"l":1},{"x":-190,"y":30,"l":1},{"x":210,"y":30,"l":1},{"x":-210,"y":30,"l":1},{"x":70,"y":10,"l":6},{"x":-70,"y":10,"l":6},{"x":90,"y":10,"l":5},{"x":-90,"y":10,"l":5},{"x":110,"y":10,"l":4},{"x":-110,"y":10,"l":4},{"x":130,"y":10,"l":4},{"x":-130,"y":10,"l":4},{"x":150,"y":10,"l":3},{"x":-150,"y":10,"l":3},{"x":170,"y":10,"l":2},{"x":-170,"y":10,"l":2},{"x":190,"y":10,"l":2},{"x":-190,"y":10,"l":2},{"x":210,"y":10,"l":1},{"x":-210,"y":10,"l":1},{"x":230,"y":10,"l":1},{"x":-230,"y":10,"l":1},{"x":250,"y":10,"l":1},{"x":70,"y":-10,"l":4},{"x":-70,"y":-10,"l":4},{"x":90,"y":-10,"l":4},{"x":-90,"y":-10,"l":4},{"x":110,"y":-10,"l":3},{"x":-110,"y":-10,"l":3},{"x":130,"y":-10,"l":2},{"x":-130,"y":-10,"l":2},{"x":150,"y":-10,"l":2},{"x":-150,"y":-10,"l":2},{"x":170,"y":-10,"l":1},{"x":-170,"y":-10,"l":1},{"x":190,"y":-10,"l":1},{"x":-190,"y":-10,"l":1},{"x":70,"y":-30,"l":3},{"x":-70,"y":-30,"l":3},{"x":90,"y":-30,"l":2},{"x":-90,"y":-30,"l":2},{"x":110,"y":-30,"l":2},{"x":-110,"y":-30,"l":2},{"x":130,"y":-30,"l":1},{"x":-130,"y":-30,"l":1},{"x":150,"y":-30,"l":1},{"x":-150,"y":-30,"l":1},{"x":50,"y":-50,"l":3},{"x":-50,"y":-50,"l":3},{"x":70,"y":-50,"l":3},{"x":-70,"y":-50,"l":3},{"x":90,"y":-50,"l":3},{"x":-90,"y":-50,"l":3},{"x":110,"y":-50,"l":3},{"x":-110,"y":-50,"l":3},{"x":130,"y":-50,"l":2},{"x":-130,"y":-50,"l":2},{"x":150,"y":-50,"l":2},{"x":-150,"y":-50,"l":2},{"x":170,"y":-50,"l":1},{"x":-170,"y":-50,"l":1},{"x":190,"y":-50,"l":1},{"x":10,"y":-70,"l":4},{"x":-10,"y":-70,"l":4},{"x":30,"y":-70,"l":7},{"x":-30,"y":-70,"l":7},{"x":50,"y":-70,"l":9},{"x":-50,"y":-70,"l":9},{"x":70,"y":-70,"l":9},{"x":-70,"y":-70,"l":9},{"x":90,"y":-70,"l":8},{"x":-90,"y":-70,"l":9},{"x":110,"y":-70,"l":5},{"x":-110,"y":-70,"l":6},{"x":130,"y":-70,"l":3},{"x":-130,"y":-70,"l":4},{"x":150,"y":-70,"l":2},{"x":-150,"y":-70,"l":3},{"x":170,"y":-70,"l":1},{"x":-170,"y":-70,"l":2},{"x":-190,"y":-70,"l":1},{"x":10,"y":-90,"l":4},{"x":-10,"y":-90,"l":4},{"x":30,"y":-90,"l":4},{"x":-30,"y":-90,"l":4},{"x":50,"y":-90,"l":4},{"x":-50,"y":-90,"l":4},{"x":70,"y":-90,"l":3},{"x":-70,"y":-90,"l":3},{"x":90,"y":-90,"l":2},{"x":-90,"y":-90,"l":2},{"x":110,"y":-90,"l":2},{"x":-110,"y":-90,"l":2},{"x":130,"y":-90,"l":1},{"x":-130,"y":-90,"l":1},{"x":10,"y":-110,"l":2},{"x":-10,"y":-110,"l":2},{"x":30,"y":-110,"l":1},{"x":-30,"y":-110,"l":1},{"x":50,"y":-110,"l":1},{"x":-50,"y":-110,"l":1}],
"b0":[{"a":0,"l":0},{"a":2600,"l":1},{"a":5200,"l":2},{"a":7800,"l":3},{"a":10400,"l":4},{"a":13000,"l":5},{"a":15600,"l":6},{"a":18200,"l":7},{"a":20800,"l":8},{"a":23400,"l":9},{"a":26000,"l":10},{"a":28600,"l":11},{"a":31200,"l":12},{"a":33800,"l":13},{"a":36400,"l":14},{"a":39000,"l":15},{"a":41600,"l":16},{"a":44200,"l":17},{"a":46800,"l":18},{"a":49400,"l":19}],
"b1":[{"a":0,"l":0},{"a":365,"l":1},{"a":730,"l":2},{"a":1095,"l":3},{"a":1460,"l":4},{"a":1825,"l":5},{"a":2190,"l":6},{"a":2555,"l":7},{"a":2920,"l":8},{"a":3285,"l":9},{"a":3650,"l":10},{"a":4015,"l":11},{"a":4380,"l":12},{"a":4745,"l":13},{"a":5110,"l":14},{"a":5475,"l":15},{"a":5840,"l":16},{"a":6205,"l":17},{"a":6570,"l":18},{"a":6935,"l":19}],
"b2":[{"a":0,"l":0},{"a":1380,"l":1},{"a":2760,"l":2},{"a":4140,"l":3},{"a":5520,"l":4},{"a":6900,"l":5},{"a":8280,"l":6},{"a":9660,"l":7},{"a":11040,"l":8},{"a":12420,"l":9},{"a":13800,"l":10},{"a":15180,"l":11},{"a":16560,"l":12},{"a":17940,"l":13},{"a":19320,"l":14},{"a":20700,"l":15},{"a":22080,"l":16},{"a":23460,"l":17},{"a":24840,"l":18},{"a":26220,"l":19}],
"b3":[{"a":0,"l":0},{"a":1550,"l":1},{"a":3100,"l":2},{"a":4650,"l":3},{"a":6200,"l":4},{"a":7750,"l":5},{"a":9300,"l":6},{"a":10850,"l":7},{"a":12400,"l":8},{"a":13950,"l":9},{"a":15500,"l":10},{"a":17050,"l":11},{"a":18600,"l":12},{"a":20150,"l":13},{"a":21700,"l":14},{"a":23250,"l":15},{"a":24800,"l":16},{"a":26350,"l":17},{"a":27900,"l":18},{"a":29450,"l":19}],
"b4":[{"a":0,"l":0},{"a":286,"l":1},{"a":572,"l":2},{"a":858,"l":3},{"a":1144,"l":4},{"a":1430,"l":5},{"a":1716,"l":6},{"a":2002,"l":7},{"a":2288,"l":8},{"a":2574,"l":9},{"a":2860,"l":10},{"a":3146,"l":11},{"a":3432,"l":12},{"a":3718,"l":13},{"a":4004,"l":14},{"a":4290,"l":15},{"a":4576,"l":16},{"a":4862,"l":17},{"a":5148,"l":18},{"a":5434,"l":19}],
"b5":[{"a":0,"l":0},{"a":2525,"l":1},{"a":5050,"l":2},{"a":7575,"l":3},{"a":10100,"l":4},{"a":12625,"l":5},{"a":15150,"l":6},{"a":17675,"l":7},{"a":20200,"l":8},{"a":22725,"l":9},{"a":25250,"l":10},{"a":27775,"l":11},{"a":30300,"l":12},{"a":32825,"l":13},{"a":35350,"l":14},{"a":37875,"l":15},{"a":40400,"l":16},{"a":42925,"l":17},{"a":45450,"l":18},{"a":47975,"l":19}],
"b6":[{"a":0,"l":0},{"a":980,"l":1},{"a":1960,"l":2},{"a":2940,"l":3},{"a":3920,"l":4},{"a":4900,"l":5},{"a":5880,"l":6},{"a":6860,"l":7},{"a":7840,"l":8},{"a":8820,"l":9},{"a":9800,"l":10},{"a":10780,"l":11},{"a":11760,"l":12},{"a":12740,"l":13},{"a":13720,"l":14},{"a":14700,"l":15},{"a":15680,"l":16},{"a":16660,"l":17},{"a":17640,"l":18},{"a":18620,"l":19}],
"b7":[{"a":0,"l":0},{"a":935,"l":1},{"a":1870,"l":2},{"a":2805,"l":3},{"a":3740,"l":4},{"a":4675,"l":5},{"a":5610,"l":6},{"a":6545,"l":7},{"a":7480,"l":8},{"a":8415,"l":9},{"a":9350,"l":10},{"a":10285,"l":11},{"a":11220,"l":12},{"a":12155,"l":13},{"a":13090,"l":14},{"a":14025,"l":15},{"a":14960,"l":16},{"a":15895,"l":17},{"a":16830,"l":18},{"a":17765,"l":19}],
"b8":[{"a":0,"l":0},{"a":1260,"l":1},{"a":2520,"l":2},{"a":3780,"l":3},{"a":5040,"l":4},{"a":6300,"l":5},{"a":7560,"l":6},{"a":8820,"l":7},{"a":10080,"l":8},{"a":11340,"l":9},{"a":12600,"l":10},{"a":13860,"l":11},{"a":15120,"l":12},{"a":16380,"l":13},{"a":17640,"l":14},{"a":18900,"l":15},{"a":20160,"l":16},{"a":21420,"l":17},{"a":22680,"l":18},{"a":23940,"l":19}],
"b9":[{"a":0,"l":0},{"a":2550,"l":1},{"a":5100,"l":2},{"a":7650,"l":3},{"a":10200,"l":4},{"a":12750,"l":5},{"a":15300,"l":6},{"a":17850,"l":7},{"a":20400,"l":8},{"a":22950,"l":9},{"a":25500,"l":10},{"a":28050,"l":11},{"a":30600,"l":12},{"a":33150,"l":13},{"a":35700,"l":14},{"a":38250,"l":15},{"a":40800,"l":16},{"a":43350,"l":17},{"a":45900,"l":18},{"a":48450,"l":19}],
"w0":[{"x":-285,"y":295},{"x":-275,"y":295},{"x":-265,"y":285},{"x":-255,"y":295},{"x":-235,"y":295},{"x":-215,"y":295},{"x":-195,"y":285},{"x":-175,"y":295},{"x":-155,"y":295},{"x":-125,"y":285},{"x":-95,"y":295},{"x":-55,"y":285},{"x":-35,"y":295},{"x":-285,"y":275},{"x":-265,"y":265},{"x":-235,"y":275},{"x":-215,"y":285},{"x":-205,"y":275},{"x":-145,"y":265},{"x":-65,"y":265},{"x":-45,"y":275},{"x":-275,"y":255},{"x":-265,"y":245},{"x":-235,"y":235},{"x":-105,"y":235},{"x":-295,"y":225},{"x":-275,"y":225},{"x":-235,"y":215},{"x":-205,"y":205},{"x":-285,"y":195},{"x":-275,"y":205},{"x":-245,"y":175},{"x":-285,"y":165},{"x":-265,"y":165},{"x":-255,"y":155},{"x":-275,"y":135},{"x":-295,"y":115},{"x":-285,"y":105},{"x":-265,"y":105},{"x":-275,"y":125},{"x":175,"y":155},{"x":235,"y":155},{"x":255,"y":145},{"x":295,"y":135},{"x":275,"y":125},{"x":285,"y":105},{"x":295,"y":105},{"x":-255,"y":-125},{"x":-215,"y":-135},{"x":-275,"y":-145},{"x":-215,"y":-155},{"x":-295,"y":-165},{"x":-245,"y":-165},{"x":-225,"y":-165},{"x":295,"y":-145},{"x":285,"y":-155},{"x":-295,"y":-185},{"x":-155,"y":-185},{"x":-175,"y":-195},{"x":95,"y":-185},{"x":205,"y":-175},{"x":175,"y":-195},{"x":245,"y":-185},{"x":295,"y":-195},{"x":285,"y":-205},{"x":-285,"y":-195},{"x":-255,"y":-205},{"x":-235,"y":-205},{"x":-225,"y":-215},{"x":-185,"y":-205},{"x":-165,"y":-215},{"x":-285,"y":-225},{"x":-265,"y":-225},{"x":-245,"y":-235},{"x":-205,"y":-235},{"x":-155,"y":-225},{"x":-135,"y":-235},{"x":-65,"y":-225},{"x":65,"y":-235},{"x":125,"y":-235},{"x":165,"y":-245},{"x":185,"y":-235},{"x":225,"y":-225},{"x":255,"y":-225},{"x":275,"y":-235},{"x":-295,"y":-245},{"x":-275,"y":-255},{"x":-255,"y":-245},{"x":-215,"y":-255},{"x":-185,"y":-255},{"x":-125,"y":-265},{"x":-35,"y":-255},{"x":-15,"y":-255},{"x":95,"y":-265},{"x":195,"y":-255},{"x":215,"y":-265},{"x":245,"y":-255},{"x":275,"y":-265},{"x":295,"y":-255},{"x":-285,"y":-275},{"x":-265,"y":-265},{"x":-245,"y":-275},{"x":-205,"y":-275},{"x":-165,"y":-275},{"x":-105,"y":-275},{"x":-75,"y":-265},{"x":55,"y":-285},{"x":105,"y":-285},{"x":145,"y":-275},{"x":175,"y":-275},{"x":225,"y":-275},{"x":265,"y":-285},{"x":-295,"y":-295},{"x":-265,"y":-285},{"x":-255,"y":-295},{"x":-225,"y":-295},{"x":-185,"y":-285},{"x":-145,"y":-295},{"x":-95,"y":-295},{"x":-45,"y":-295},{"x":-5,"y":-295},{"x":85,"y":-295},{"x":125,"y":-295},{"x":195,"y":-295},{"x":285,"y":-295}],
"w1":[{"x":-285,"y":285},{"x":-275,"y":295},{"x":-265,"y":295},{"x":-265,"y":285},{"x":-255,"y":295},{"x":-255,"y":275},{"x":-275,"y":275},{"x":-235,"y":295},{"x":-235,"y":285},{"x":-235,"y":265},{"x":-225,"y":275},{"x":-235,"y":255},{"x":-205,"y":275},{"x":-185,"y":255},{"x":-205,"y":255},{"x":-175,"y":285},{"x":-155,"y":285},{"x":-135,"y":285},{"x":-105,"y":295},{"x":-85,"y":295},{"x":-55,"y":285},{"x":-295,"y":225},{"x":-275,"y":245},{"x":-265,"y":265},{"x":-295,"y":255},{"x":-275,"y":-245},{"x":-255,"y":-235},{"x":-235,"y":-235},{"x":-295,"y":-275},{"x":-245,"y":-275},{"x":-235,"y":-265},{"x":-205,"y":-265},{"x":-235,"y":-285},{"x":-205,"y":-295},{"x":-175,"y":-285},{"x":-165,"y":-285},{"x":-145,"y":-285},{"x":-105,"y":-285},{"x":-65,"y":-275},{"x":15,"y":-295},{"x":35,"y":-295},{"x":125,"y":-285},{"x":135,"y":-295},{"x":145,"y":-295},{"x":175,"y":-275},{"x":185,"y":-265},{"x":205,"y":-255},{"x":225,"y":-245},{"x":235,"y":-295},{"x":245,"y":-275},{"x":265,"y":-265},{"x":275,"y":-255},{"x":275,"y":-265},{"x":285,"y":-275},{"x":275,"y":-295},{"x":255,"y":-285},{"x":295,"y":-295},{"x":265,"y":-205},{"x":295,"y":-205}],
"w2":[{"x":-295,"y":295},{"x":-275,"y":295},{"x":-265,"y":295},{"x":-245,"y":295},{"x":-235,"y":295},{"x":-225,"y":295},{"x":-205,"y":295},{"x":-195,"y":295},{"x":-175,"y":295},{"x":-165,"y":295},{"x":-145,"y":295},{"x":-125,"y":295},{"x":-105,"y":295},{"x":-85,"y":295},{"x":-65,"y":295},{"x":-45,"y":295},{"x":-25,"y":295},{"x":-285,"y":285},{"x":-255,"y":285},{"x":-235,"y":285},{"x":-205,"y":285},{"x":-175,"y":285},{"x":-135,"y":285},{"x":-115,"y":285},{"x":-95,"y":285},{"x":-55,"y":285},{"x":-15,"y":285},{"x":-295,"y":275},{"x":-265,"y":275},{"x":-225,"y":275},{"x":-195,"y":275},{"x":-155,"y":275},{"x":-125,"y":275},{"x":-75,"y":275},{"x":-35,"y":275},{"x":-275,"y":265},{"x":-245,"y":265},{"x":-215,"y":265},{"x":-205,"y":265},{"x":-165,"y":265},{"x":-105,"y":265},{"x":-85,"y":265},{"x":-45,"y":265},{"x":-295,"y":255},{"x":-265,"y":255},{"x":-255,"y":255},{"x":-235,"y":255},{"x":-225,"y":255},{"x":-185,"y":255},{"x":-145,"y":255},{"x":-115,"y":255},{"x":-65,"y":255},{"x":-285,"y":245},{"x":-245,"y":245},{"x":-205,"y":245},{"x":-135,"y":245},{"x":-95,"y":245},{"x":-55,"y":245},{"x":-25,"y":245},{"x":-295,"y":235},{"x":-225,"y":235},{"x":-195,"y":235},{"x":-175,"y":235},{"x":-125,"y":225},{"x":-85,"y":225},{"x":-275,"y":225},{"x":-245,"y":225},{"x":-235,"y":215},{"x":-215,"y":215},{"x":-185,"y":215},{"x":-135,"y":215},{"x":-125,"y":205},{"x":-85,"y":215},{"x":-295,"y":205},{"x":-265,"y":205},{"x":-205,"y":195},{"x":-175,"y":195},{"x":-285,"y":185},{"x":-255,"y":185},{"x":-225,"y":175},{"x":-135,"y":165},{"x":-295,"y":165},{"x":-265,"y":155},{"x":-235,"y":155},{"x":-205,"y":145},{"x":-285,"y":135},{"x":-255,"y":135},{"x":-225,"y":125},{"x":-155,"y":125},{"x":-275,"y":115},{"x":-245,"y":115},{"x":-295,"y":105},{"x":-205,"y":95},{"x":-265,"y":85},{"x":-285,"y":75},{"x":-235,"y":65},{"x":-245,"y":45},{"x":-235,"y":35},{"x":-275,"y":55},{"x":-265,"y":-25},{"x":-285,"y":-35},{"x":155,"y":155},{"x":175,"y":155},{"x":195,"y":135},{"x":225,"y":135},{"x":245,"y":135},{"x":265,"y":135},{"x":285,"y":135},{"x":295,"y":145},{"x":165,"y":145},{"x":275,"y":125},{"x":295,"y":115},{"x":285,"y":115},{"x":265,"y":115},{"x":245,"y":105},{"x":175,"y":125},{"x":275,"y":105},{"x":295,"y":85},{"x":265,"y":85},{"x":225,"y":80},{"x":285,"y":75},{"x":295,"y":55},{"x":285,"y":35},{"x":285,"y":25},{"x":225,"y":-15},{"x":235,"y":-5},{"x":255,"y":-5},{"x":255,"y":-25},{"x":265,"y":-35},{"x":-245,"y":-265},{"x":-215,"y":-275},{"x":-295,"y":-295},{"x":110,"y":-290},{"x":275,"y":-245},{"x":295,"y":-275}],
"w3":[{"x":-295,"y":295},{"x":-275,"y":295},{"x":-235,"y":295},{"x":-205,"y":295},{"x":-185,"y":295},{"x":-115,"y":295},{"x":-55,"y":295},{"x":-265,"y":285},{"x":-245,"y":285},{"x":-215,"y":285},{"x":-185,"y":285},{"x":-165,"y":285},{"x":-75,"y":285},{"x":-265,"y":265},{"x":-225,"y":265},{"x":-205,"y":265},{"x":-90,"y":265},{"x":-45,"y":265},{"x":-15,"y":265},{"x":-295,"y":255},{"x":-175,"y":255},{"x":-145,"y":245},{"x":-225,"y":235},{"x":-245,"y":235},{"x":-215,"y":235},{"x":-110,"y":235},{"x":-295,"y":205},{"x":-275,"y":195},{"x":-255,"y":195},{"x":-265,"y":170},{"x":225,"y":135},{"x":205,"y":135},{"x":265,"y":135},{"x":275,"y":145},{"x":295,"y":155},{"x":205,"y":115},{"x":225,"y":115},{"x":245,"y":105},{"x":285,"y":65},{"x":295,"y":-95},{"x":265,"y":-125},{"x":285,"y":-125},{"x":295,"y":-125},{"x":275,"y":-135},{"x":285,"y":-145},{"x":225,"y":-155},{"x":295,"y":-155},{"x":265,"y":-165},{"x":285,"y":-165},{"x":205,"y":-165},{"x":-275,"y":-160},{"x":-295,"y":-185},{"x":-225,"y":-190},{"x":255,"y":-185},{"x":275,"y":-185},{"x":295,"y":-185},{"x":-285,"y":-205},{"x":-255,"y":-205},{"x":-215,"y":-205},{"x":-135,"y":-205},{"x":205,"y":-205},{"x":235,"y":-205},{"x":255,"y":-205},{"x":285,"y":-205},{"x":-195,"y":-225},{"x":-245,"y":-225},{"x":-225,"y":-215},{"x":15,"y":-225},{"x":35,"y":-225},{"x":125,"y":-215},{"x":195,"y":-225},{"x":225,"y":-225},{"x":265,"y":-225},{"x":-265,"y":-245},{"x":-235,"y":-235},{"x":-185,"y":-235},{"x":-25,"y":-230},{"x":125,"y":-235},{"x":135,"y":-235},{"x":175,"y":-235},{"x":245,"y":-235},{"x":275,"y":-235},{"x":-275,"y":-255},{"x":-255,"y":-255},{"x":-215,"y":-255},{"x":-85,"y":-255},{"x":-5,"y":-250},{"x":95,"y":-250},{"x":125,"y":-260},{"x":165,"y":-255},{"x":205,"y":-255},{"x":235,"y":-255},{"x":-285,"y":-265},{"x":-205,"y":-265},{"x":-150,"y":-265},{"x":-125,"y":-265},{"x":-15,"y":-275},{"x":65,"y":-265},{"x":135,"y":-265},{"x":185,"y":-265},{"x":255,"y":-265},{"x":285,"y":-265},{"x":-265,"y":-275},{"x":-225,"y":-285},{"x":-195,"y":-285},{"x":-105,"y":-285},{"x":-45,"y":-285},{"x":25,"y":-285},{"x":75,"y":-285},{"x":115,"y":-275},{"x":155,"y":-285},{"x":215,"y":-285},{"x":245,"y":-285},{"x":295,"y":-275},{"x":-295,"y":-295},{"x":-275,"y":-295},{"x":-245,"y":-295},{"x":-215,"y":-295},{"x":-175,"y":-295},{"x":-125,"y":-295},{"x":-75,"y":-295},{"x":5,"y":-295},{"x":55,"y":-295},{"x":95,"y":-295},{"x":135,"y":-295},{"x":175,"y":-295},{"x":205,"y":-295},{"x":225,"y":-295},{"x":265,"y":-295}],
"w4":[{"x":-285,"y":295},{"x":-265,"y":295},{"x":-155,"y":295},{"x":-105,"y":285},{"x":-75,"y":295},{"x":-35,"y":285},{"x":-275,"y":275},{"x":-245,"y":275},{"x":-225,"y":275},{"x":-205,"y":275},{"x":-185,"y":275},{"x":-140,"y":275},{"x":-65,"y":295},{"x":-45,"y":265},{"x":-5,"y":275},{"x":-290,"y":265},{"x":-255,"y":265},{"x":-165,"y":265},{"x":-215,"y":245},{"x":-75,"y":255},{"x":-265,"y":235},{"x":-155,"y":235},{"x":-190,"y":225},{"x":-225,"y":225},{"x":-285,"y":225},{"x":-135,"y":215},{"x":-275,"y":170},{"x":-275,"y":-215},{"x":-295,"y":-250},{"x":-265,"y":-250},{"x":-190,"y":-255},{"x":-155,"y":-245},{"x":-105,"y":-235},{"x":-55,"y":-255},{"x":-15,"y":-265},{"x":25,"y":-250},{"x":165,"y":-230},{"x":145,"y":-250},{"x":275,"y":-225},{"x":205,"y":-260},{"x":-285,"y":-275},{"x":-255,"y":-275},{"x":-235,"y":-265},{"x":-175,"y":-275},{"x":-145,"y":-285},{"x":-105,"y":-275},{"x":-60,"y":-285},{"x":-285,"y":-295},{"x":-265,"y":-285},{"x":-235,"y":-295},{"x":-185,"y":-285},{"x":-125,"y":-285},{"x":75,"y":-290},{"x":105,"y":-280},{"x":125,"y":-295},{"x":175,"y":-280},{"x":215,"y":-275},{"x":235,"y":-285},{"x":255,"y":-285},{"x":275,"y":-285},{"x":295,"y":-265}],
"w5":[{"x":-295,"y":295},{"x":-275,"y":295},{"x":-255,"y":295},{"x":-175,"y":295},{"x":-125,"y":295},{"x":-85,"y":295},{"x":-45,"y":295},{"x":-285,"y":285},{"x":-265,"y":285},{"x":-245,"y":285},{"x":-215,"y":285},{"x":-195,"y":285},{"x":-155,"y":285},{"x":-105,"y":285},{"x":-275,"y":275},{"x":-255,"y":275},{"x":-235,"y":275},{"x":-185,"y":265},{"x":-125,"y":265},{"x":-65,"y":275},{"x":-35,"y":265},{"x":-265,"y":265},{"x":-235,"y":265},{"x":-15,"y":255},{"x":-285,"y":255},{"x":-245,"y":255},{"x":-225,"y":255},{"x":-145,"y":245},{"x":-45,"y":255},{"x":-285,"y":235},{"x":-265,"y":235},{"x":-235,"y":235},{"x":-215,"y":235},{"x":-90,"y":235},{"x":-70,"y":220},{"x":-25,"y":225},{"x":-295,"y":215},{"x":-225,"y":210},{"x":-190,"y":205},{"x":-165,"y":195},{"x":-115,"y":215},{"x":-255,"y":205},{"x":-285,"y":195},{"x":-245,"y":190},{"x":-205,"y":175},{"x":-275,"y":165},{"x":-235,"y":150},{"x":-225,"y":145},{"x":-295,"y":135},{"x":-280,"y":130},{"x":185,"y":145},{"x":225,"y":155},{"x":255,"y":155},{"x":275,"y":155},{"x":290,"y":145},{"x":225,"y":75},{"x":-285,"y":-110},{"x":-225,"y":-130},{"x":-205,"y":-150},{"x":-245,"y":-155},{"x":-285,"y":-165},{"x":-205,"y":-165},{"x":-165,"y":-165},{"x":-265,"y":-175},{"x":-185,"y":-175},{"x":285,"y":-165},{"x":295,"y":-175},{"x":245,"y":-175},{"x":-295,"y":-185},{"x":-255,"y":-195},{"x":-225,"y":-195},{"x":165,"y":-190},{"x":245,"y":-195},{"x":-275,"y":-205},{"x":-245,"y":-205},{"x":-195,"y":-205},{"x":85,"y":-215},{"x":185,"y":-215},{"x":235,"y":-205},{"x":-285,"y":-225},{"x":-225,"y":-225},{"x":-205,"y":-215},{"x":-135,"y":-215},{"x":-105,"y":-225},{"x":95,"y":-225},{"x":265,"y":-225},{"x":-265,"y":-235},{"x":-175,"y":-235},{"x":-115,"y":-235},{"x":135,"y":-235},{"x":155,"y":-235},{"x":205,"y":-225},{"x":285,"y":-235},{"x":-285,"y":-255},{"x":-265,"y":-255},{"x":-245,"y":-255},{"x":-225,"y":-245},{"x":-195,"y":-245},{"x":-155,"y":-245},{"x":-65,"y":-255},{"x":105,"y":-255},{"x":205,"y":-255},{"x":255,"y":-245},{"x":275,"y":-250},{"x":-275,"y":-265},{"x":-255,"y":-265},{"x":-215,"y":-265},{"x":-185,"y":-275},{"x":-125,"y":-265},{"x":-85,"y":-275},{"x":35,"y":-265},{"x":145,"y":-265},{"x":235,"y":-265},{"x":-285,"y":-285},{"x":-245,"y":-275},{"x":-205,"y":-285},{"x":-155,"y":-285},{"x":-95,"y":-285},{"x":-15,"y":-275},{"x":55,"y":-285},{"x":185,"y":-285},{"x":225,"y":-285},{"x":-295,"y":-295},{"x":-265,"y":-295},{"x":-235,"y":-295},{"x":-195,"y":-295},{"x":-45,"y":-295},{"x":115,"y":-295},{"x":165,"y":-295},{"x":215,"y":-295},{"x":265,"y":-295}],
"w6":[{"x":-295,"y":295},{"x":-275,"y":295},{"x":-255,"y":295},{"x":-225,"y":295},{"x":-195,"y":295},{"x":-165,"y":295},{"x":-135,"y":295},{"x":-105,"y":295},{"x":-75,"y":295},{"x":-25,"y":295},{"x":-285,"y":285},{"x":-235,"y":285},{"x":-205,"y":285},{"x":-145,"y":285},{"x":-95,"y":285},{"x":-55,"y":285},{"x":-15,"y":285},{"x":-265,"y":275},{"x":-245,"y":275},{"x":-215,"y":275},{"x":-185,"y":275},{"x":-125,"y":275},{"x":-65,"y":275},{"x":-35,"y":275},{"x":-285,"y":265},{"x":-275,"y":265},{"x":-225,"y":265},{"x":-175,"y":265},{"x":-115,"y":265},{"x":-45,"y":265},{"x":-5,"y":265},{"x":-295,"y":255},{"x":-265,"y":255},{"x":-195,"y":255},{"x":-155,"y":255},{"x":-85,"y":255},{"x":-255,"y":245},{"x":-215,"y":245},{"x":-175,"y":245},{"x":-145,"y":245},{"x":-285,"y":235},{"x":-235,"y":235},{"x":-205,"y":235},{"x":-135,"y":235},{"x":-265,"y":225},{"x":-245,"y":225},{"x":-225,"y":225},{"x":-195,"y":215},{"x":-125,"y":215},{"x":-85,"y":215},{"x":-295,"y":215},{"x":-275,"y":205},{"x":-225,"y":205},{"x":-205,"y":205},{"x":-175,"y":205},{"x":-135,"y":205},{"x":-105,"y":205},{"x":-255,"y":195},{"x":-285,"y":175},{"x":-265,"y":175},{"x":-235,"y":175},{"x":-195,"y":185},{"x":-295,"y":165},{"x":-255,"y":165},{"x":-215,"y":160},{"x":-175,"y":165},{"x":-125,"y":165},{"x":-285,"y":150},{"x":-235,"y":150},{"x":-215,"y":150},{"x":-205,"y":150},{"x":-275,"y":135},{"x":-245,"y":135},{"x":-295,"y":125},{"x":-245,"y":115},{"x":-170,"y":115},{"x":-265,"y":105},{"x":-285,"y":95},{"x":-205,"y":85},{"x":-245,"y":65},{"x":-230,"y":70},{"x":125,"y":150},{"x":165,"y":165},{"x":255,"y":135},{"x":275,"y":145},{"x":295,"y":145},{"x":295,"y":125},{"x":285,"y":115},{"x":265,"y":105},{"x":275,"y":95},{"x":285,"y":65},{"x":-265,"y":-235},{"x":-285,"y":-205},{"x":-285,"y":-225},{"x":-295,"y":-245},{"x":-255,"y":-255},{"x":-205,"y":-265},{"x":-185,"y":-265},{"x":-175,"y":-255},{"x":-125,"y":-265},{"x":-275,"y":-275},{"x":-235,"y":-275},{"x":-285,"y":-295},{"x":-245,"y":-285},{"x":-225,"y":-295},{"x":-170,"y":-295},{"x":-95,"y":-295},{"x":145,"y":-275},{"x":165,"y":-290},{"x":235,"y":-260},{"x":265,"y":-270},{"x":285,"y":-285},{"x":295,"y":-285},{"x":265,"y":-295}],
"w7":[{"x":-295,"y":295},{"x":-275,"y":295},{"x":-255,"y":295},{"x":-225,"y":295},{"x":-185,"y":295},{"x":-145,"y":295},{"x":-65,"y":295},{"x":-25,"y":295},{"x":-285,"y":285},{"x":-265,"y":285},{"x":-235,"y":285},{"x":-205,"y":285},{"x":-175,"y":285},{"x":-125,"y":285},{"x":-85,"y":285},{"x":-15,"y":285},{"x":-255,"y":275},{"x":-225,"y":275},{"x":-195,"y":275},{"x":-155,"y":275},{"x":-105,"y":275},{"x":-45,"y":275},{"x":-285,"y":265},{"x":-125,"y":265},{"x":-75,"y":265},{"x":-25,"y":265},{"x":-295,"y":255},{"x":-255,"y":245},{"x":-35,"y":235},{"x":-25,"y":235},{"x":-245,"y":235},{"x":-225,"y":235},{"x":-205,"y":235},{"x":-275,"y":225},{"x":-265,"y":225},{"x":-185,"y":225},{"x":-145,"y":225},{"x":-235,"y":215},{"x":-165,"y":205},{"x":-35,"y":205},{"x":-285,"y":195},{"x":-210,"y":190},{"x":-275,"y":165},{"x":-255,"y":165},{"x":-225,"y":160},{"x":-235,"y":160},{"x":-275,"y":135},{"x":255,"y":155},{"x":275,"y":145},{"x":295,"y":125},{"x":-285,"y":-125},{"x":-265,"y":-130},{"x":-255,"y":-130},{"x":-265,"y":-150},{"x":-245,"y":-160},{"x":-295,"y":-175},{"x":-205,"y":-175},{"x":-185,"y":-175},{"x":-245,"y":-185},{"x":-285,"y":-195},{"x":-265,"y":-205},{"x":-215,"y":-200},{"x":-195,"y":-205},{"x":-165,"y":-205},{"x":-135,"y":-205},{"x":205,"y":-205},{"x":235,"y":-200},{"x":265,"y":-200},{"x":295,"y":-175},{"x":135,"y":-215},{"x":-295,"y":-225},{"x":-255,"y":-225},{"x":-225,"y":-225},{"x":-145,"y":-215},{"x":-105,"y":-220},{"x":-45,"y":-220},{"x":-5,"y":-220},{"x":225,"y":-225},{"x":255,"y":-225},{"x":285,"y":-225},{"x":-275,"y":-235},{"x":-235,"y":-245},{"x":-175,"y":-245},{"x":-125,"y":-240},{"x":-5,"y":-235},{"x":30,"y":-235},{"x":145,"y":-245},{"x":165,"y":-235},{"x":265,"y":-235},{"x":-285,"y":-255},{"x":-265,"y":-255},{"x":-215,"y":-255},{"x":-145,"y":-255},{"x":-75,"y":-265},{"x":-5,"y":-255},{"x":115,"y":-255},{"x":175,"y":-255},{"x":225,"y":-255},{"x":245,"y":-255},{"x":275,"y":-255},{"x":-295,"y":-265},{"x":-255,"y":-275},{"x":-205,"y":-265},{"x":-125,"y":-275},{"x":-65,"y":-275},{"x":15,"y":-265},{"x":55,"y":-265},{"x":125,"y":-265},{"x":195,"y":-275},{"x":285,"y":-265},{"x":-285,"y":-285},{"x":-265,"y":-285},{"x":-235,"y":-285},{"x":-185,"y":-285},{"x":-105,"y":-285},{"x":-35,"y":-285},{"x":75,"y":-285},{"x":215,"y":-285},{"x":255,"y":-275},{"x":-295,"y":-295},{"x":-245,"y":-295},{"x":-195,"y":-295},{"x":-155,"y":-295},{"x":-85,"y":-295},{"x":15,"y":-295},{"x":105,"y":-295},{"x":175,"y":-295},{"x":245,"y":-295},{"x":275,"y":-295},{"x":295,"y":-285}],
"w8":[{"x":-285,"y":295},{"x":-265,"y":295},{"x":-205,"y":295},{"x":-165,"y":295},{"x":-135,"y":295},{"x":-95,"y":295},{"x":-75,"y":295},{"x":-275,"y":285},{"x":-225,"y":285},{"x":-185,"y":285},{"x":-105,"y":285},{"x":-35,"y":285},{"x":-265,"y":275},{"x":-245,"y":265},{"x":-235,"y":265},{"x":-150,"y":265},{"x":-145,"y":255},{"x":-15,"y":255},{"x":-295,"y":255},{"x":-275,"y":265},{"x":-255,"y":245},{"x":-285,"y":245},{"x":-205,"y":235},{"x":-190,"y":230},{"x":-170,"y":235},{"x":-265,"y":235},{"x":-275,"y":225},{"x":-245,"y":195},{"x":-285,"y":215},{"x":-295,"y":195},{"x":270,"y":155},{"x":-235,"y":-215},{"x":245,"y":-170},{"x":275,"y":-165},{"x":255,"y":-175},{"x":295,"y":-195},{"x":225,"y":-205},{"x":285,"y":-205},{"x":265,"y":-215},{"x":295,"y":-225},{"x":-275,"y":-235},{"x":-285,"y":-255},{"x":-265,"y":-255},{"x":-235,"y":-255},{"x":-205,"y":-265},{"x":-295,"y":-275},{"x":-245,"y":-275},{"x":-225,"y":-265},{"x":-285,"y":-285},{"x":-255,"y":-285},{"x":-195,"y":-280},{"x":-135,"y":-285},{"x":-105,"y":-285},{"x":-70,"y":-290},{"x":-5,"y":-290},{"x":20,"y":-280},{"x":100,"y":-275},{"x":175,"y":-235},{"x":185,"y":-245},{"x":195,"y":-225},{"x":155,"y":-255},{"x":215,"y":-235},{"x":245,"y":-255},{"x":255,"y":-245},{"x":275,"y":-245},{"x":285,"y":-235},{"x":175,"y":-265},{"x":205,"y":-265},{"x":215,"y":-275},{"x":185,"y":-285},{"x":225,"y":-295},{"x":275,"y":-265},{"x":265,"y":-255},{"x":295,"y":-295},{"x":155,"y":-290}],
"w9":[{"x":-295,"y":295},{"x":-275,"y":295},{"x":-235,"y":295},{"x":-215,"y":295},{"x":-195,"y":295},{"x":-155,"y":295},{"x":-85,"y":295},{"x":-35,"y":295},{"x":-285,"y":285},{"x":-265,"y":285},{"x":-225,"y":285},{"x":-185,"y":285},{"x":-135,"y":285},{"x":-105,"y":285},{"x":-15,"y":285},{"x":-255,"y":275},{"x":-245,"y":275},{"x":-205,"y":275},{"x":-165,"y":275},{"x":-125,"y":275},{"x":-285,"y":265},{"x":-225,"y":265},{"x":-175,"y":265},{"x":-145,"y":265},{"x":-25,"y":255},{"x":-55,"y":255},{"x":-275,"y":255},{"x":-255,"y":255},{"x":-235,"y":255},{"x":-125,"y":245},{"x":-115,"y":245},{"x":-265,"y":245},{"x":-195,"y":245},{"x":-245,"y":235},{"x":-175,"y":235},{"x":-285,"y":225},{"x":-215,"y":225},{"x":-135,"y":215},{"x":-55,"y":215},{"x":-295,"y":215},{"x":-275,"y":205},{"x":-245,"y":205},{"x":-235,"y":215},{"x":-195,"y":205},{"x":-155,"y":205},{"x":-285,"y":195},{"x":-225,"y":195},{"x":-175,"y":195},{"x":-265,"y":175},{"x":-195,"y":175},{"x":-285,"y":165},{"x":-295,"y":155},{"x":-255,"y":165},{"x":-245,"y":130},{"x":-265,"y":115},{"x":215,"y":145},{"x":255,"y":135},{"x":265,"y":105},{"x":295,"y":155},{"x":-295,"y":-125},{"x":-285,"y":-150},{"x":-295,"y":-170},{"x":-235,"y":-170},{"x":-205,"y":-170},{"x":-185,"y":-175},{"x":-285,"y":-185},{"x":-265,"y":-185},{"x":-245,"y":-190},{"x":-225,"y":-190},{"x":-155,"y":-195},{"x":-295,"y":-195},{"x":-275,"y":-205},{"x":-215,"y":-205},{"x":85,"y":-205},{"x":115,"y":-205},{"x":105,"y":-225},{"x":225,"y":-205},{"x":245,"y":-170},{"x":255,"y":-185},{"x":275,"y":-135},{"x":245,"y":-155},{"x":295,"y":-205},{"x":-255,"y":-225},{"x":-175,"y":-215},{"x":-135,"y":-215},{"x":-285,"y":-235},{"x":-235,"y":-235},{"x":-195,"y":-230},{"x":-125,"y":-230},{"x":-35,"y":-235},{"x":155,"y":-240},{"x":205,"y":-235},{"x":225,"y":-230},{"x":265,"y":-225},{"x":-265,"y":-245},{"x":-225,"y":-245},{"x":-185,"y":-245},{"x":-155,"y":-245},{"x":-95,"y":-250},{"x":135,"y":-255},{"x":245,"y":-245},{"x":275,"y":-245},{"x":255,"y":-265},{"x":265,"y":-265},{"x":275,"y":-265},{"x":-295,"y":-265},{"x":-245,"y":-265},{"x":-215,"y":-275},{"x":-205,"y":-275},{"x":-165,"y":-265},{"x":-125,"y":-265},{"x":-35,"y":-265},{"x":175,"y":-265},{"x":195,"y":-275},{"x":225,"y":-265},{"x":-275,"y":-285},{"x":-235,"y":-285},{"x":-195,"y":-285},{"x":-105,"y":-285},{"x":25,"y":-280},{"x":85,"y":-280},{"x":125,"y":-285},{"x":205,"y":-285},{"x":245,"y":-285},{"x":285,"y":-285},{"x":-295,"y":-295},{"x":-255,"y":-295},{"x":-215,"y":-295},{"x":-145,"y":-295},{"x":-65,"y":-295},{"x":-35,"y":-295},{"x":55,"y":-295},{"x":155,"y":-295},{"x":265,"y":-295}]
},
"concat":[
{"width":188,"height":213,"resolve":{"scale":{"y":"independent"}},"layer":[{"layer":[
{"data":{"name":"w0"},"mark":{"type":"rect","width":3.3,"height":3.7,"color":"#fff"},"encoding":{"x":{"field":"x","type":"quantitative","scale":{"domain":[-300,300],"nice":false,"zero":false},"axis":{"title":"Difference between residuals in V coordinate [μm]"}},"y":{"field":"y","type":"quantitative","scale":{"domain":[-300,300],"nice":false,"zero":false},"axis":{"title":"Difference between residuals in U coordinate [μm]"}}}},
{"data":{"name":"hA"},"mark":{"type":"rect","width":3.3,"height":3.7},"encoding":{"x":{"field":"x","type":"quantitative"},"y":{"field":"y","type":"quantitative"},"color":{"field":"l","type":"ordinal"}}},
{"data":{"name":"sl"},"mark":{"type":"rule","color":"#444"},"encoding":{"x":{"field":"x","type":"quantitative"},"x2":{"field":"x2"},"y":{"field":"y","type":"quantitative"}}},
{"data":{"name":"vt"},"mark":{"type":"rule","color":"#222"},"encoding":{"x":{"field":"x","type":"quantitative"},"y":{"field":"y","type":"quantitative"},"y2":{"field":"y2"}}},
{"data":{"name":"box"},"mark":{"type":"rect","fill":"#fff","stroke":"#444"},"encoding":{"x":{"field":"x","type":"quantitative"},"x2":{"field":"x2"},"y":{"field":"y","type":"quantitative"},"y2":{"field":"y2"}}},
{"data":{"name":"lab"},"mark":{"type":"text","align":"left"},"encoding":{"x":{"field":"x","type":"quantitative"},"y":{"field":"y","type":"quantitative"},"text":{"field":"t"}}},
{"data":{"values":[{"t":"4429606","x":281,"y":286},{"t":"0.427","x":281,"y":259},{"t":"−1.555","x":281,"y":235},{"t":"46.13","x":281,"y":207},{"t":"26.06","x":281,"y":179}]},"mark":{"type":"text","align":"right"},"encoding":{"x":{"field":"x","type":"quantitative"},"y":{"field":"y","type":"quantitative"},"text":{"field":"t"}}},
{"data":{"values":[{"t":"Nominal","x":16,"y":339}]},"mark":{"type":"text","font":"Liberation Serif","fontSize":28,"fontWeight":"bold","color":"#000","align":"center","baseline":"alphabetic"},"encoding":{"x":{"field":"x","type":"quantitative"},"y":{"field":"y","type":"quantitative"},"text":{"field":"t"}}}
]},
{"data":{"name":"b0"},"mark":{"type":"rect","height":10.9,"yOffset":-5.33},"encoding":{"x":{"datum":302},"x2":{"datum":340.5},"y":{"field":"a","type":"quantitative","scale":{"domain":[0,52000],"nice":false,"zero":false},"axis":{"orient":"right","format":"d","title":"Number of hits","values":[0,10000,20000,30000,40000,50000]}},"color":{"field":"l","type":"ordinal"}}}
]},
{"width":188,"height":213,"resolve":{"scale":{"y":"independent"}},"layer":[{"layer":[
{"data":{"name":"w1"},"mark":{"type":"rect","width":3.3,"height":3.7,"color":"#fff"},"encoding":{"x":{"field":"x","type":"quantitative","scale":{"domain":[-300,300],"nice":false,"zero":false},"axis":{"title":"Difference between residuals in V coordinate [μm]"}},"y":{"field":"y","type":"quantitative","scale":{"domain":[-300,300],"nice":false,"zero":false},"axis":{"title":"Difference between residuals in U coordinate [μm]"}}}},
{"data":{"name":"cC"},"mark":{"type":"rect","width":6.4,"height":7.2},"encoding":{"x":{"field":"x","type":"quantitative"},"y":{"field":"y","type":"quantitative"},"color":{"field":"l","type":"ordinal"}}},
{"data":{"name":"hC"},"mark":{"type":"rect","width":3.3,"height":3.7},"encoding":{"x":{"field":"x","type":"quantitative"},"y":{"field":"y","type":"quantitative"},"color":{"field":"l","type":"ordinal"}}},
{"data":{"name":"sr"},"mark":{"type":"rule","color":"#444"},"encoding":{"x":{"field":"x","type":"quantitative"},"x2":{"field":"x2"},"y":{"field":"y","type":"quantitative"}}},
{"data":{"name":"box"},"mark":{"type":"rect","fill":"#fff","stroke":"#444"},"encoding":{"x":{"field":"x","type":"quantitative"},"x2":{"field":"x2"},"y":{"field":"y","type":"quantitative"},"y2":{"field":"y2"}}},
{"data":{"name":"lab"},"mark":{"type":"text","align":"left"},"encoding":{"x":{"field":"x","type":"quantitative"},"y":{"field":"y","type":"quantitative"},"text":{"field":"t"}}},
{"data":{"values":[{"t":"4336207","x":281,"y":286},{"t":"−0.5302","x":281,"y":259},{"t":"−1.164","x":281,"y":235},{"t":"77.95","x":281,"y":207},{"t":"65","x":281,"y":179}]},"mark":{"type":"text","align":"right"},"encoding":{"x":{"field":"x","type":"quantitative"},"y":{"field":"y","type":"quantitative"},"text":{"field":"t"}}},
{"data":{"values":[{"t":"Clamshell","x":16,"y":339}]},"mark":{"type":"text","font":"Liberation Serif","fontSize":28,"fontWeight":"bold","color":"#000","align":"center","baseline":"alphabetic"},"encoding":{"x":{"field":"x","type":"quantitative"},"y":{"field":"y","type":"quantitative"},"text":{"field":"t"}}}
]},
{"data":{"name":"b1"},"mark":{"type":"rect","height":10.9,"yOffset":-5.33},"encoding":{"x":{"datum":302},"x2":{"datum":340.5},"y":{"field":"a","type":"quantitative","scale":{"domain":[0,7300],"nice":false,"zero":false},"axis":{"orient":"right","format":"d","title":"Number of hits","values":[0,1000,2000,3000,4000,5000,6000,7000]}},"color":{"field":"l","type":"ordinal"}}}
]},
{"width":188,"height":213,"resolve":{"scale":{"y":"independent"}},"layer":[{"layer":[
{"data":{"name":"w2"},"mark":{"type":"rect","width":3.3,"height":3.7,"color":"#fff"},"encoding":{"x":{"field":"x","type":"quantitative","scale":{"domain":[-300,300],"nice":false,"zero":false},"axis":{"title":"Difference between residuals in V coordinate [μm]"}},"y":{"field":"y","type":"quantitative","scale":{"domain":[-300,300],"nice":false,"zero":false},"axis":{"title":"Difference between residuals in U coordinate [μm]"}}}},
{"data":{"name":"hR"},"mark":{"type":"rect","width":3.3,"height":3.7},"encoding":{"x":{"field":"x","type":"quantitative"},"y":{"field":"y","type":"quantitative"},"color":{"field":"l","type":"ordinal"}}},
{"data":{"name":"sl"},"mark":{"type":"rule","color":"#444"},"encoding":{"x":{"field":"x","type":"quantitative"},"x2":{"field":"x2"},"y":{"field":"y","type":"quantitative"}}},
{"data":{"name":"vt"},"mark":{"type":"rule","color":"#222"},"encoding":{"x":{"field":"x","type":"quantitative"},"y":{"field":"y","type":"quantitative"},"y2":{"field":"y2"}}},
{"data":{"name":"box"},"mark":{"type":"rect","fill":"#fff","stroke":"#444"},"encoding":{"x":{"field":"x","type":"quantitative"},"x2":{"field":"x2"},"y":{"field":"y","type":"quantitative"},"y2":{"field":"y2"}}},
{"data":{"name":"lab"},"mark":{"type":"text","align":"left"},"encoding":{"x":{"field":"x","type":"quantitative"},"y":{"field":"y","type":"quantitative"},"text":{"field":"t"}}},
{"data":{"values":[{"t":"4291511","x":281,"y":286},{"t":"1.799","x":281,"y":259},{"t":"−58.73","x":281,"y":235},{"t":"49.94","x":281,"y":207},{"t":"69.38","x":281,"y":179}]},"mark":{"type":"text","align":"right"},"encoding":{"x":{"field":"x","type":"quantitative"},"y":{"field":"y","type":"quantitative"},"text":{"field":"t"}}},
{"data":{"values":[{"t":"Radial expansion","x":16,"y":339}]},"mark":{"type":"text","font":"Liberation Serif","fontSize":28,"fontWeight":"bold","color":"#000","align":"center","baseline":"alphabetic"},"encoding":{"x":{"field":"x","type":"quantitative"},"y":{"field":"y","type":"quantitative"},"text":{"field":"t"}}}
]},
{"data":{"name":"b2"},"mark":{"type":"rect","height":10.9,"yOffset":-5.33},"encoding":{"x":{"datum":302},"x2":{"datum":340.5},"y":{"field":"a","type":"quantitative","scale":{"domain":[0,27600],"nice":false,"zero":false},"axis":{"orient":"right","format":"d","title":"Number of hits","values":[0,5000,10000,15000,20000,25000]}},"color":{"field":"l","type":"ordinal"}}}
]},
{"width":188,"height":213,"resolve":{"scale":{"y":"independent"}},"layer":[{"layer":[
{"data":{"name":"w3"},"mark":{"type":"rect","width":3.3,"height":3.7,"color":"#fff"},"encoding":{"x":{"field":"x","type":"quantitative","scale":{"domain":[-300,300],"nice":false,"zero":false},"axis":{"title":"Difference between residuals in V coordinate [μm]"}},"y":{"field":"y","type":"quantitative","scale":{"domain":[-300,300],"nice":false,"zero":false},"axis":{"title":"Difference between residuals in U coordinate [μm]"}}}},
{"data":{"name":"hW"},"mark":{"type":"rect","width":3.3,"height":3.7},"encoding":{"x":{"field":"x","type":"quantitative"},"y":{"field":"y","type":"quantitative"},"color":{"field":"l","type":"ordinal"}}},
{"data":{"name":"sr"},"mark":{"type":"rule","color":"#444"},"encoding":{"x":{"field":"x","type":"quantitative"},"x2":{"field":"x2"},"y":{"field":"y","type":"quantitative"}}},
{"data":{"name":"box"},"mark":{"type":"rect","fill":"#fff","stroke":"#444"},"encoding":{"x":{"field":"x","type":"quantitative"},"x2":{"field":"x2"},"y":{"field":"y","type":"quantitative"},"y2":{"field":"y2"}}},
{"data":{"name":"lab"},"mark":{"type":"text","align":"left"},"encoding":{"x":{"field":"x","type":"quantitative"},"y":{"field":"y","type":"quantitative"},"text":{"field":"t"}}},
{"data":{"values":[{"t":"4408521","x":281,"y":286},{"t":"−27.95","x":281,"y":259},{"t":"−1.515","x":281,"y":235},{"t":"72.93","x":281,"y":207},{"t":"26.53","x":281,"y":179}]},"mark":{"type":"text","align":"right"},"encoding":{"x":{"field":"x","type":"quantitative"},"y":{"field":"y","type":"quantitative"},"text":{"field":"t"}}},
{"data":{"values":[{"t":"Twist","x":16,"y":339}]},"mark":{"type":"text","font":"Liberation Serif","fontSize":28,"fontWeight":"bold","color":"#000","align":"center","baseline":"alphabetic"},"encoding":{"x":{"field":"x","type":"quantitative"},"y":{"field":"y","type":"quantitative"},"text":{"field":"t"}}}
]},
{"data":{"name":"b3"},"mark":{"type":"rect","height":10.9,"yOffset":-5.33},"encoding":{"x":{"datum":302},"x2":{"datum":340.5},"y":{"field":"a","type":"quantitative","scale":{"domain":[0,31000],"nice":false,"zero":false},"axis":{"orient":"right","format":"d","title":"Number of hits","values":[0,5000,10000,15000,20000,25000,30000]}},"color":{"field":"l","type":"ordinal"}}}
]},
{"width":188,"height":213,"resolve":{"scale":{"y":"independent"}},"layer":[{"layer":[
{"data":{"name":"w4"},"mark":{"type":"rect","width":3.3,"height":3.7,"color":"#fff"},"encoding":{"x":{"field":"x","type":"quantitative","scale":{"domain":[-300,300],"nice":false,"zero":false},"axis":{"title":"Difference between residuals in V coordinate [μm]"}},"y":{"field":"y","type":"quantitative","scale":{"domain":[-300,300],"nice":false,"zero":false},"axis":{"title":"Difference between residuals in U coordinate [μm]"}}}},
{"data":{"name":"cE"},"mark":{"type":"rect","width":6.4,"height":7.2},"encoding":{"x":{"field":"x","type":"quantitative"},"y":{"field":"y","type":"quantitative"},"color":{"field":"l","type":"ordinal"}}},
{"data":{"name":"hE"},"mark":{"type":"rect","width":3.3,"height":3.7},"encoding":{"x":{"field":"x","type":"quantitative"},"y":{"field":"y","type":"quantitative"},"color":{"field":"l","type":"ordinal"}}},
{"data":{"name":"sl"},"mark":{"type":"rule","color":"#444"},"encoding":{"x":{"field":"x","type":"quantitative"},"x2":{"field":"x2"},"y":{"field":"y","type":"quantitative"}}},
{"data":{"name":"vt"},"mark":{"type":"rule","color":"#222"},"encoding":{"x":{"field":"x","type":"quantitative"},"y":{"field":"y","type":"quantitative"},"y2":{"field":"y2"}}},
{"data":{"name":"box"},"mark":{"type":"rect","fill":"#fff","stroke":"#444"},"encoding":{"x":{"field":"x","type":"quantitative"},"x2":{"field":"x2"},"y":{"field":"y","type":"quantitative"},"y2":{"field":"y2"}}},
{"data":{"name":"lab"},"mark":{"type":"text","align":"left"},"encoding":{"x":{"field":"x","type":"quantitative"},"y":{"field":"y","type":"quantitative"},"text":{"field":"t"}}},
{"data":{"values":[{"t":"4283946","x":281,"y":286},{"t":"0.3276","x":281,"y":259},{"t":"−2.657","x":281,"y":235},{"t":"106","x":281,"y":207},{"t":"61.96","x":281,"y":179}]},"mark":{"type":"text","align":"right"},"encoding":{"x":{"field":"x","type":"quantitative"},"y":{"field":"y","type":"quantitative"},"text":{"field":"t"}}},
{"data":{"values":[{"t":"Elliptical expansion","x":16,"y":339}]},"mark":{"type":"text","font":"Liberation Serif","fontSize":28,"fontWeight":"bold","color":"#000","align":"center","baseline":"alphabetic"},"encoding":{"x":{"field":"x","type":"quantitative"},"y":{"field":"y","type":"quantitative"},"text":{"field":"t"}}}
]},
{"data":{"name":"b4"},"mark":{"type":"rect","height":10.9,"yOffset":-5.33},"encoding":{"x":{"datum":302},"x2":{"datum":340.5},"y":{"field":"a","type":"quantitative","scale":{"domain":[0,5720],"nice":false,"zero":false},"axis":{"orient":"right","format":"d","title":"Number of hits","values":[0,1000,2000,3000,4000,5000]}},"color":{"field":"l","type":"ordinal"}}}
]},
{"width":188,"height":213,"resolve":{"scale":{"y":"independent"}},"layer":[{"layer":[
{"data":{"name":"w5"},"mark":{"type":"rect","width":3.3,"height":3.7,"color":"#fff"},"encoding":{"x":{"field":"x","type":"quantitative","scale":{"domain":[-300,300],"nice":false,"zero":false},"axis":{"title":"Difference between residuals in V coordinate [μm]"}},"y":{"field":"y","type":"quantitative","scale":{"domain":[-300,300],"nice":false,"zero":false},"axis":{"title":"Difference between residuals in U coordinate [μm]"}}}},
{"data":{"name":"hT"},"mark":{"type":"rect","width":3.3,"height":3.7},"encoding":{"x":{"field":"x","type":"quantitative"},"y":{"field":"y","type":"quantitative"},"color":{"field":"l","type":"ordinal"}}},
{"data":{"name":"sr"},"mark":{"type":"rule","color":"#444"},"encoding":{"x":{"field":"x","type":"quantitative"},"x2":{"field":"x2"},"y":{"field":"y","type":"quantitative"}}},
{"data":{"name":"box"},"mark":{"type":"rect","fill":"#fff","stroke":"#444"},"encoding":{"x":{"field":"x","type":"quantitative"},"x2":{"field":"x2"},"y":{"field":"y","type":"quantitative"},"y2":{"field":"y2"}}},
{"data":{"name":"lab"},"mark":{"type":"text","align":"left"},"encoding":{"x":{"field":"x","type":"quantitative"},"y":{"field":"y","type":"quantitative"},"text":{"field":"t"}}},
{"data":{"values":[{"t":"4429858","x":281,"y":286},{"t":"10.46","x":281,"y":259},{"t":"−1.49","x":281,"y":235},{"t":"46.34","x":281,"y":207},{"t":"26.02","x":281,"y":179}]},"mark":{"type":"text","align":"right"},"encoding":{"x":{"field":"x","type":"quantitative"},"y":{"field":"y","type":"quantitative"},"text":{"field":"t"}}},
{"data":{"values":[{"t":"Telescope","x":16,"y":339}]},"mark":{"type":"text","font":"Liberation Serif","fontSize":28,"fontWeight":"bold","color":"#000","align":"center","baseline":"alphabetic"},"encoding":{"x":{"field":"x","type":"quantitative"},"y":{"field":"y","type":"quantitative"},"text":{"field":"t"}}}
]},
{"data":{"name":"b5"},"mark":{"type":"rect","height":10.9,"yOffset":-5.33},"encoding":{"x":{"datum":302},"x2":{"datum":340.5},"y":{"field":"a","type":"quantitative","scale":{"domain":[0,50500],"nice":false,"zero":false},"axis":{"orient":"right","format":"d","title":"Number of hits","values":[0,10000,20000,30000,40000,50000]}},"color":{"field":"l","type":"ordinal"}}}
]},
{"width":188,"height":213,"resolve":{"scale":{"y":"independent"}},"layer":[{"layer":[
{"data":{"name":"w6"},"mark":{"type":"rect","width":3.3,"height":3.7,"color":"#fff"},"encoding":{"x":{"field":"x","type":"quantitative","scale":{"domain":[-300,300],"nice":false,"zero":false},"axis":{"title":"Difference between residuals in V coordinate [μm]"}},"y":{"field":"y","type":"quantitative","scale":{"domain":[-300,300],"nice":false,"zero":false},"axis":{"title":"Difference between residuals in U coordinate [μm]"}}}},
{"data":{"name":"cB"},"mark":{"type":"rect","width":6.4,"height":7.2},"encoding":{"x":{"field":"x","type":"quantitative"},"y":{"field":"y","type":"quantitative"},"color":{"field":"l","type":"ordinal"}}},
{"data":{"name":"hB"},"mark":{"type":"rect","width":3.3,"height":3.7},"encoding":{"x":{"field":"x","type":"quantitative"},"y":{"field":"y","type":"quantitative"},"color":{"field":"l","type":"ordinal"}}},
{"data":{"name":"sl"},"mark":{"type":"rule","color":"#444"},"encoding":{"x":{"field":"x","type":"quantitative"},"x2":{"field":"x2"},"y":{"field":"y","type":"quantitative"}}},
{"data":{"name":"vt"},"mark":{"type":"rule","color":"#222"},"encoding":{"x":{"field":"x","type":"quantitative"},"y":{"field":"y","type":"quantitative"},"y2":{"field":"y2"}}},
{"data":{"name":"box"},"mark":{"type":"rect","fill":"#fff","stroke":"#444"},"encoding":{"x":{"field":"x","type":"quantitative"},"x2":{"field":"x2"},"y":{"field":"y","type":"quantitative"},"y2":{"field":"y2"}}},
{"data":{"name":"lab"},"mark":{"type":"text","align":"left"},"encoding":{"x":{"field":"x","type":"quantitative"},"y":{"field":"y","type":"quantitative"},"text":{"field":"t"}}},
{"data":{"values":[{"t":"4392949","x":281,"y":286},{"t":"2.37","x":281,"y":259},{"t":"−31.23","x":281,"y":235},{"t":"49","x":281,"y":207},{"t":"50.8","x":281,"y":179}]},"mark":{"type":"text","align":"right"},"encoding":{"x":{"field":"x","type":"quantitative"},"y":{"field":"y","type":"quantitative"},"text":{"field":"t"}}},
{"data":{"values":[{"t":"Bowing","x":16,"y":339}]},"mark":{"type":"text","font":"Liberation Serif","fontSize":28,"fontWeight":"bold","color":"#000","align":"center","baseline":"alphabetic"},"encoding":{"x":{"field":"x","type":"quantitative"},"y":{"field":"y","type":"quantitative"},"text":{"field":"t"}}}
]},
{"data":{"name":"b6"},"mark":{"type":"rect","height":10.9,"yOffset":-5.33},"encoding":{"x":{"datum":302},"x2":{"datum":340.5},"y":{"field":"a","type":"quantitative","scale":{"domain":[0,19600],"nice":false,"zero":false},"axis":{"orient":"right","format":"d","title":"Number of hits","values":[0,2000,4000,6000,8000,10000,12000,14000,16000,18000]}},"color":{"field":"l","type":"ordinal"}}}
]},
{"width":188,"height":213,"resolve":{"scale":{"y":"independent"}},"layer":[{"layer":[
{"data":{"name":"w7"},"mark":{"type":"rect","width":3.3,"height":3.7,"color":"#fff"},"encoding":{"x":{"field":"x","type":"quantitative","scale":{"domain":[-300,300],"nice":false,"zero":false},"axis":{"title":"Difference between residuals in V coordinate [μm]"}},"y":{"field":"y","type":"quantitative","scale":{"domain":[-300,300],"nice":false,"zero":false},"axis":{"title":"Difference between residuals in U coordinate [μm]"}}}},
{"data":{"name":"hS"},"mark":{"type":"rect","width":3.3,"height":3.7},"encoding":{"x":{"field":"x","type":"quantitative"},"y":{"field":"y","type":"quantitative"},"color":{"field":"l","type":"ordinal"}}},
{"data":{"name":"sr"},"mark":{"type":"rule","color":"#444"},"encoding":{"x":{"field":"x","type":"quantitative"},"x2":{"field":"x2"},"y":{"field":"y","type":"quantitative"}}},
{"data":{"name":"box"},"mark":{"type":"rect","fill":"#fff","stroke":"#444"},"encoding":{"x":{"field":"x","type":"quantitative"},"x2":{"field":"x2"},"y":{"field":"y","type":"quantitative"},"y2":{"field":"y2"}}},
{"data":{"name":"lab"},"mark":{"type":"text","align":"left"},"encoding":{"x":{"field":"x","type":"quantitative"},"y":{"field":"y","type":"quantitative"},"text":{"field":"t"}}},
{"data":{"values":[{"t":"4425198","x":281,"y":286},{"t":"0.9312","x":281,"y":259},{"t":"−1.532","x":281,"y":235},{"t":"80.54","x":281,"y":207},{"t":"25.89","x":281,"y":179}]},"mark":{"type":"text","align":"right"},"encoding":{"x":{"field":"x","type":"quantitative"},"y":{"field":"y","type":"quantitative"},"text":{"field":"t"}}},
{"data":{"values":[{"t":"Skew","x":16,"y":339}]},"mark":{"type":"text","font":"Liberation Serif","fontSize":28,"fontWeight":"bold","color":"#000","align":"center","baseline":"alphabetic"},"encoding":{"x":{"field":"x","type":"quantitative"},"y":{"field":"y","type":"quantitative"},"text":{"field":"t"}}}
]},
{"data":{"name":"b7"},"mark":{"type":"rect","height":10.9,"yOffset":-5.33},"encoding":{"x":{"datum":302},"x2":{"datum":340.5},"y":{"field":"a","type":"quantitative","scale":{"domain":[0,18700],"nice":false,"zero":false},"axis":{"orient":"right","format":"d","title":"Number of hits","values":[0,2000,4000,6000,8000,10000,12000,14000,16000,18000]}},"color":{"field":"l","type":"ordinal"}}}
]},
{"width":188,"height":213,"resolve":{"scale":{"y":"independent"}},"layer":[{"layer":[
{"data":{"name":"w8"},"mark":{"type":"rect","width":3.3,"height":3.7,"color":"#fff"},"encoding":{"x":{"field":"x","type":"quantitative","scale":{"domain":[-300,300],"nice":false,"zero":false},"axis":{"title":"Difference between residuals in V coordinate [μm]"}},"y":{"field":"y","type":"quantitative","scale":{"domain":[-300,300],"nice":false,"zero":false},"axis":{"title":"Difference between residuals in U coordinate [μm]"}}}},
{"data":{"name":"hU"},"mark":{"type":"rect","width":3.3,"height":3.7},"encoding":{"x":{"field":"x","type":"quantitative"},"y":{"field":"y","type":"quantitative"},"color":{"field":"l","type":"ordinal"}}},
{"data":{"name":"vb"},"mark":{"type":"rule","color":"#222"},"encoding":{"x":{"field":"x","type":"quantitative"},"y":{"field":"y","type":"quantitative"},"y2":{"field":"y2"}}},
{"data":{"name":"box"},"mark":{"type":"rect","fill":"#fff","stroke":"#444"},"encoding":{"x":{"field":"x","type":"quantitative"},"x2":{"field":"x2"},"y":{"field":"y","type":"quantitative"},"y2":{"field":"y2"}}},
{"data":{"name":"lab"},"mark":{"type":"text","align":"left"},"encoding":{"x":{"field":"x","type":"quantitative"},"y":{"field":"y","type":"quantitative"},"text":{"field":"t"}}},
{"data":{"values":[{"t":"4428341","x":281,"y":286},{"t":"−9.915","x":281,"y":259},{"t":"2.135","x":281,"y":235},{"t":"73.84","x":281,"y":207},{"t":"31.85","x":281,"y":179}]},"mark":{"type":"text","align":"right"},"encoding":{"x":{"field":"x","type":"quantitative"},"y":{"field":"y","type":"quantitative"},"text":{"field":"t"}}},
{"data":{"values":[{"t":"Curl","x":16,"y":339}]},"mark":{"type":"text","font":"Liberation Serif","fontSize":28,"fontWeight":"bold","color":"#000","align":"center","baseline":"alphabetic"},"encoding":{"x":{"field":"x","type":"quantitative"},"y":{"field":"y","type":"quantitative"},"text":{"field":"t"}}}
]},
{"data":{"name":"b8"},"mark":{"type":"rect","height":10.9,"yOffset":-5.33},"encoding":{"x":{"datum":302},"x2":{"datum":340.5},"y":{"field":"a","type":"quantitative","scale":{"domain":[0,25200],"nice":false,"zero":false},"axis":{"orient":"right","format":"d","title":"Number of hits","values":[0,5000,10000,15000,20000,25000]}},"color":{"field":"l","type":"ordinal"}}}
]},
{"width":188,"height":213,"resolve":{"scale":{"y":"independent"}},"layer":[{"layer":[
{"data":{"name":"w9"},"mark":{"type":"rect","width":3.3,"height":3.7,"color":"#fff"},"encoding":{"x":{"field":"x","type":"quantitative","scale":{"domain":[-300,300],"nice":false,"zero":false},"axis":{"title":"Difference between residuals in V coordinate [μm]"}},"y":{"field":"y","type":"quantitative","scale":{"domain":[-300,300],"nice":false,"zero":false},"axis":{"title":"Difference between residuals in U coordinate [μm]"}}}},
{"data":{"name":"hA"},"mark":{"type":"rect","width":3.3,"height":3.7},"encoding":{"x":{"field":"x","type":"quantitative"},"y":{"field":"y","type":"quantitative"},"color":{"field":"l","type":"ordinal"}}},
{"data":{"name":"box"},"mark":{"type":"rect","fill":"#fff","stroke":"#444"},"encoding":{"x":{"field":"x","type":"quantitative"},"x2":{"field":"x2"},"y":{"field":"y","type":"quantitative"},"y2":{"field":"y2"}}},
{"data":{"name":"lab"},"mark":{"type":"text","align":"left"},"encoding":{"x":{"field":"x","type":"quantitative"},"y":{"field":"y","type":"quantitative"},"text":{"field":"t"}}},
{"data":{"values":[{"t":"4428777","x":281,"y":286},{"t":"1.354","x":281,"y":259},{"t":"−1.532","x":281,"y":235},{"t":"46.29","x":281,"y":207},{"t":"26.03","x":281,"y":179}]},"mark":{"type":"text","align":"right"},"encoding":{"x":{"field":"x","type":"quantitative"},"y":{"field":"y","type":"quantitative"},"text":{"field":"t"}}},
{"data":{"values":[{"t":"Z expansion","x":16,"y":339}]},"mark":{"type":"text","font":"Liberation Serif","fontSize":28,"fontWeight":"bold","color":"#000","align":"center","baseline":"alphabetic"},"encoding":{"x":{"field":"x","type":"quantitative"},"y":{"field":"y","type":"quantitative"},"text":{"field":"t"}}}
]},
{"data":{"name":"b9"},"mark":{"type":"rect","height":10.9,"yOffset":-5.33},"encoding":{"x":{"datum":302},"x2":{"datum":340.5},"y":{"field":"a","type":"quantitative","scale":{"domain":[0,51000],"nice":false,"zero":false},"axis":{"orient":"right","format":"d","title":"Number of hits","values":[0,10000,20000,30000,40000,50000]}},"color":{"field":"l","type":"ordinal"}}}
]}
]}
